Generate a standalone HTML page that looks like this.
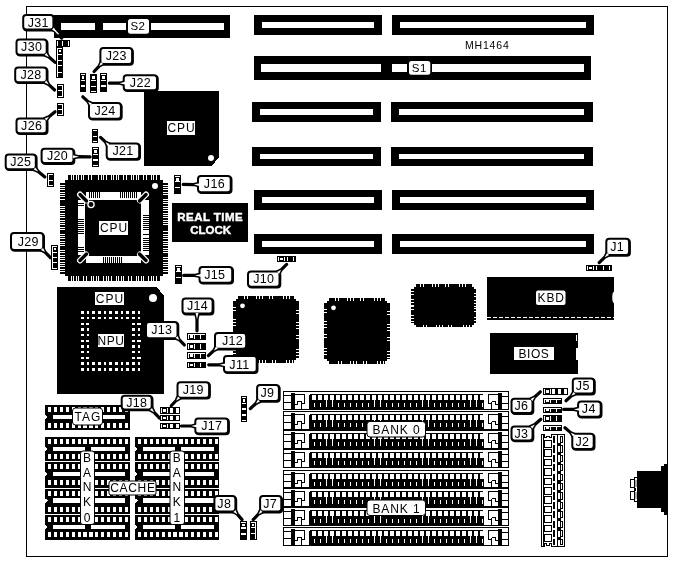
<!DOCTYPE html>
<html lang="en">
<head>
<meta charset="utf-8">
<title>MH1464 motherboard layout</title>
<style>
html,body{margin:0;padding:0;background:#fff;}
body{width:673px;height:562px;overflow:hidden;}
svg{display:block;font-family:"Liberation Sans",sans-serif;will-change:transform;}
</style>
</head>
<body>
<svg width="673" height="562" viewBox="0 0 673 562" shape-rendering="crispEdges">
<rect x="0" y="0" width="673" height="562" fill="#fff"/>
<rect x="26.5" y="6.5" width="641" height="550" fill="none" stroke="#000" stroke-width="1"/>
<rect x="54" y="15" width="176" height="23" fill="#000"/>
<rect x="61" y="23" width="33.5" height="7.3" fill="#fff"/>
<rect x="103" y="23" width="23" height="7.3" fill="#fff"/>
<rect x="151" y="23" width="72.7" height="7.3" fill="#fff"/>
<rect x="254" y="15" width="128" height="20" fill="#000"/>
<rect x="262" y="22" width="112" height="6" fill="#fff"/>
<rect x="392" y="15" width="202" height="20" fill="#000"/>
<rect x="400" y="22" width="186" height="6" fill="#fff"/>
<rect x="254" y="56" width="337" height="24" fill="#000"/>
<rect x="261" y="64" width="120" height="8" fill="#fff"/>
<rect x="392" y="64" width="192" height="8" fill="#fff"/>
<rect x="252" y="102" width="129" height="20" fill="#000"/>
<rect x="260" y="109" width="113" height="6" fill="#fff"/>
<rect x="391" y="102" width="202" height="20" fill="#000"/>
<rect x="399" y="109" width="185" height="6" fill="#fff"/>
<rect x="252" y="147" width="129" height="19" fill="#000"/>
<rect x="260" y="154" width="113" height="5" fill="#fff"/>
<rect x="391" y="147" width="202" height="19" fill="#000"/>
<rect x="399" y="154" width="185" height="5" fill="#fff"/>
<rect x="254" y="190" width="128" height="20" fill="#000"/>
<rect x="262" y="197" width="112" height="6" fill="#fff"/>
<rect x="392" y="190" width="202" height="20" fill="#000"/>
<rect x="400" y="197" width="186" height="6" fill="#fff"/>
<rect x="254" y="234" width="128" height="20" fill="#000"/>
<rect x="262" y="241" width="112" height="6" fill="#fff"/>
<rect x="392" y="234" width="202" height="20" fill="#000"/>
<rect x="400" y="241" width="186" height="6" fill="#fff"/>
<rect x="128" y="19" width="21" height="14.8" fill="#fff" rx="2.5" shape-rendering="auto"/>
<text x="137.85" y="30.04" font-size="11.5" fill="#000" text-anchor="middle" letter-spacing="0.3">S2</text>
<rect x="407" y="63" width="25.3" height="10" fill="#000"/>
<rect x="409" y="60.9" width="21.3" height="13.9" rx="2.5" fill="#fff" shape-rendering="auto"/>
<text x="419.3" y="71.5" font-size="11.5" fill="#000" text-anchor="middle" letter-spacing="0.4">S1</text>
<text x="487.3" y="48.5" font-size="10.5" fill="#000" text-anchor="middle" letter-spacing="0.8">MH1464</text>
<polygon points="144,91 219,91 219,157.5 211.5,166 144,166" fill="#000"/>
<circle cx="211" cy="158" r="3" fill="#fff" shape-rendering="auto"/>
<rect x="167" y="121" width="28" height="13.6" fill="#fff"/>
<text x="181.45" y="132.12" font-size="12" fill="#000" text-anchor="middle" letter-spacing="0.9">CPU</text>
<rect x="68" y="175" width="92" height="6" fill="#000"/>
<rect x="71" y="175" width="1" height="6" fill="#fff"/>
<rect x="73" y="175" width="1" height="6" fill="#fff"/>
<rect x="76" y="175" width="1" height="6" fill="#fff"/>
<rect x="78" y="175" width="1" height="6" fill="#fff"/>
<rect x="81" y="175" width="1" height="6" fill="#fff"/>
<rect x="83" y="175" width="1" height="6" fill="#fff"/>
<rect x="88" y="175" width="1" height="6" fill="#fff"/>
<rect x="91" y="175" width="1" height="6" fill="#fff"/>
<rect x="98" y="175" width="1" height="6" fill="#fff"/>
<rect x="101" y="175" width="1" height="6" fill="#fff"/>
<rect x="103" y="175" width="1" height="6" fill="#fff"/>
<rect x="106" y="175" width="1" height="6" fill="#fff"/>
<rect x="111" y="175" width="1" height="6" fill="#fff"/>
<rect x="113" y="175" width="1" height="6" fill="#fff"/>
<rect x="116" y="175" width="1" height="6" fill="#fff"/>
<rect x="118" y="175" width="1" height="6" fill="#fff"/>
<rect x="123" y="175" width="1" height="6" fill="#fff"/>
<rect x="126" y="175" width="1" height="6" fill="#fff"/>
<rect x="131" y="175" width="1" height="6" fill="#fff"/>
<rect x="133" y="175" width="1" height="6" fill="#fff"/>
<rect x="136" y="175" width="1" height="6" fill="#fff"/>
<rect x="138" y="175" width="1" height="6" fill="#fff"/>
<rect x="143" y="175" width="1" height="6" fill="#fff"/>
<rect x="146" y="175" width="1" height="6" fill="#fff"/>
<rect x="151" y="175" width="1" height="6" fill="#fff"/>
<rect x="153" y="175" width="1" height="6" fill="#fff"/>
<rect x="156" y="175" width="1" height="6" fill="#fff"/>
<rect x="68" y="275" width="92" height="6" fill="#000"/>
<rect x="71" y="275" width="1" height="6" fill="#fff"/>
<rect x="73" y="275" width="1" height="6" fill="#fff"/>
<rect x="76" y="275" width="1" height="6" fill="#fff"/>
<rect x="78" y="275" width="1" height="6" fill="#fff"/>
<rect x="83" y="275" width="1" height="6" fill="#fff"/>
<rect x="86" y="275" width="1" height="6" fill="#fff"/>
<rect x="91" y="275" width="1" height="6" fill="#fff"/>
<rect x="93" y="275" width="1" height="6" fill="#fff"/>
<rect x="96" y="275" width="1" height="6" fill="#fff"/>
<rect x="98" y="275" width="1" height="6" fill="#fff"/>
<rect x="103" y="275" width="1" height="6" fill="#fff"/>
<rect x="106" y="275" width="1" height="6" fill="#fff"/>
<rect x="108" y="275" width="1" height="6" fill="#fff"/>
<rect x="111" y="275" width="1" height="6" fill="#fff"/>
<rect x="116" y="275" width="1" height="6" fill="#fff"/>
<rect x="118" y="275" width="1" height="6" fill="#fff"/>
<rect x="121" y="275" width="1" height="6" fill="#fff"/>
<rect x="123" y="275" width="1" height="6" fill="#fff"/>
<rect x="128" y="275" width="1" height="6" fill="#fff"/>
<rect x="131" y="275" width="1" height="6" fill="#fff"/>
<rect x="136" y="275" width="1" height="6" fill="#fff"/>
<rect x="138" y="275" width="1" height="6" fill="#fff"/>
<rect x="141" y="275" width="1" height="6" fill="#fff"/>
<rect x="143" y="275" width="1" height="6" fill="#fff"/>
<rect x="148" y="275" width="1" height="6" fill="#fff"/>
<rect x="151" y="275" width="1" height="6" fill="#fff"/>
<rect x="153" y="275" width="1" height="6" fill="#fff"/>
<rect x="156" y="275" width="1" height="6" fill="#fff"/>
<rect x="60" y="183" width="6" height="91" fill="#000"/>
<rect x="60" y="185" width="6" height="1" fill="#fff"/>
<rect x="60" y="187" width="6" height="1" fill="#fff"/>
<rect x="60" y="189" width="6" height="1" fill="#fff"/>
<rect x="60" y="192" width="6" height="1" fill="#fff"/>
<rect x="60" y="194" width="6" height="1" fill="#fff"/>
<rect x="60" y="196" width="6" height="1" fill="#fff"/>
<rect x="60" y="199" width="6" height="1" fill="#fff"/>
<rect x="60" y="206" width="6" height="1" fill="#fff"/>
<rect x="60" y="208" width="6" height="1" fill="#fff"/>
<rect x="60" y="210" width="6" height="1" fill="#fff"/>
<rect x="60" y="213" width="6" height="1" fill="#fff"/>
<rect x="60" y="215" width="6" height="1" fill="#fff"/>
<rect x="60" y="217" width="6" height="1" fill="#fff"/>
<rect x="60" y="220" width="6" height="1" fill="#fff"/>
<rect x="60" y="222" width="6" height="1" fill="#fff"/>
<rect x="60" y="224" width="6" height="1" fill="#fff"/>
<rect x="60" y="227" width="6" height="1" fill="#fff"/>
<rect x="60" y="229" width="6" height="1" fill="#fff"/>
<rect x="60" y="234" width="6" height="1" fill="#fff"/>
<rect x="60" y="236" width="6" height="1" fill="#fff"/>
<rect x="60" y="238" width="6" height="1" fill="#fff"/>
<rect x="60" y="241" width="6" height="1" fill="#fff"/>
<rect x="60" y="243" width="6" height="1" fill="#fff"/>
<rect x="60" y="245" width="6" height="1" fill="#fff"/>
<rect x="60" y="250" width="6" height="1" fill="#fff"/>
<rect x="60" y="252" width="6" height="1" fill="#fff"/>
<rect x="60" y="255" width="6" height="1" fill="#fff"/>
<rect x="60" y="257" width="6" height="1" fill="#fff"/>
<rect x="60" y="259" width="6" height="1" fill="#fff"/>
<rect x="60" y="262" width="6" height="1" fill="#fff"/>
<rect x="60" y="264" width="6" height="1" fill="#fff"/>
<rect x="60" y="266" width="6" height="1" fill="#fff"/>
<rect x="60" y="269" width="6" height="1" fill="#fff"/>
<rect x="60" y="271" width="6" height="1" fill="#fff"/>
<rect x="162" y="183" width="6" height="91" fill="#000"/>
<rect x="162" y="185" width="6" height="1" fill="#fff"/>
<rect x="162" y="187" width="6" height="1" fill="#fff"/>
<rect x="162" y="189" width="6" height="1" fill="#fff"/>
<rect x="162" y="192" width="6" height="1" fill="#fff"/>
<rect x="162" y="194" width="6" height="1" fill="#fff"/>
<rect x="162" y="199" width="6" height="1" fill="#fff"/>
<rect x="162" y="201" width="6" height="1" fill="#fff"/>
<rect x="162" y="203" width="6" height="1" fill="#fff"/>
<rect x="162" y="206" width="6" height="1" fill="#fff"/>
<rect x="162" y="208" width="6" height="1" fill="#fff"/>
<rect x="162" y="210" width="6" height="1" fill="#fff"/>
<rect x="162" y="213" width="6" height="1" fill="#fff"/>
<rect x="162" y="215" width="6" height="1" fill="#fff"/>
<rect x="162" y="217" width="6" height="1" fill="#fff"/>
<rect x="162" y="220" width="6" height="1" fill="#fff"/>
<rect x="162" y="222" width="6" height="1" fill="#fff"/>
<rect x="162" y="224" width="6" height="1" fill="#fff"/>
<rect x="162" y="231" width="6" height="1" fill="#fff"/>
<rect x="162" y="234" width="6" height="1" fill="#fff"/>
<rect x="162" y="236" width="6" height="1" fill="#fff"/>
<rect x="162" y="238" width="6" height="1" fill="#fff"/>
<rect x="162" y="241" width="6" height="1" fill="#fff"/>
<rect x="162" y="243" width="6" height="1" fill="#fff"/>
<rect x="162" y="245" width="6" height="1" fill="#fff"/>
<rect x="162" y="248" width="6" height="1" fill="#fff"/>
<rect x="162" y="250" width="6" height="1" fill="#fff"/>
<rect x="162" y="252" width="6" height="1" fill="#fff"/>
<rect x="162" y="257" width="6" height="1" fill="#fff"/>
<rect x="162" y="259" width="6" height="1" fill="#fff"/>
<rect x="162" y="262" width="6" height="1" fill="#fff"/>
<rect x="162" y="264" width="6" height="1" fill="#fff"/>
<rect x="162" y="266" width="6" height="1" fill="#fff"/>
<rect x="162" y="269" width="6" height="1" fill="#fff"/>
<rect x="162" y="271" width="6" height="1" fill="#fff"/>
<rect x="65" y="180" width="98" height="96" fill="#000"/>
<rect x="78" y="192" width="71" height="71" fill="#fff"/>
<rect x="85" y="199.5" width="56" height="56.5" fill="#000"/>
<rect x="89" y="192" width="1" height="6" fill="#000"/>
<rect x="91" y="192" width="1" height="6" fill="#000"/>
<rect x="93" y="192" width="1" height="6" fill="#000"/>
<rect x="95" y="192" width="1" height="6" fill="#000"/>
<rect x="97" y="192" width="1" height="6" fill="#000"/>
<rect x="99" y="192" width="1" height="6" fill="#000"/>
<rect x="120" y="192" width="1" height="6" fill="#000"/>
<rect x="122" y="192" width="1" height="6" fill="#000"/>
<rect x="124" y="192" width="1" height="6" fill="#000"/>
<rect x="126" y="192" width="1" height="6" fill="#000"/>
<rect x="128" y="192" width="1" height="6" fill="#000"/>
<rect x="130" y="192" width="1" height="6" fill="#000"/>
<rect x="132" y="192" width="1" height="6" fill="#000"/>
<rect x="134" y="192" width="1" height="6" fill="#000"/>
<rect x="136" y="192" width="1" height="6" fill="#000"/>
<rect x="103" y="257" width="1" height="6" fill="#000"/>
<rect x="105" y="257" width="1" height="6" fill="#000"/>
<rect x="107" y="257" width="1" height="6" fill="#000"/>
<rect x="109" y="257" width="1" height="6" fill="#000"/>
<rect x="111" y="257" width="1" height="6" fill="#000"/>
<rect x="113" y="257" width="1" height="6" fill="#000"/>
<rect x="115" y="257" width="1" height="6" fill="#000"/>
<rect x="117" y="257" width="1" height="6" fill="#000"/>
<rect x="119" y="257" width="1" height="6" fill="#000"/>
<rect x="121" y="257" width="1" height="6" fill="#000"/>
<rect x="143" y="215" width="6" height="1" fill="#000"/>
<rect x="143" y="217" width="6" height="1" fill="#000"/>
<rect x="143" y="219" width="6" height="1" fill="#000"/>
<rect x="143" y="221" width="6" height="1" fill="#000"/>
<rect x="143" y="223" width="6" height="1" fill="#000"/>
<rect x="143" y="225" width="6" height="1" fill="#000"/>
<rect x="143" y="227" width="6" height="1" fill="#000"/>
<rect x="143" y="229" width="6" height="1" fill="#000"/>
<rect x="143" y="234" width="6" height="1" fill="#000"/>
<rect x="143" y="238" width="6" height="1" fill="#000"/>
<rect x="143" y="240" width="6" height="1" fill="#000"/>
<rect x="143" y="242" width="6" height="1" fill="#000"/>
<rect x="143" y="244" width="6" height="1" fill="#000"/>
<rect x="143" y="246" width="6" height="1" fill="#000"/>
<rect x="143" y="248" width="6" height="1" fill="#000"/>
<rect x="143" y="250" width="6" height="1" fill="#000"/>
<rect x="78" y="203" width="6" height="1" fill="#000"/>
<rect x="78" y="205" width="6" height="1" fill="#000"/>
<rect x="78" y="219" width="6" height="1" fill="#000"/>
<rect x="78" y="221" width="6" height="1" fill="#000"/>
<rect x="78" y="223" width="6" height="1" fill="#000"/>
<rect x="78" y="225" width="6" height="1" fill="#000"/>
<rect x="78" y="227" width="6" height="1" fill="#000"/>
<rect x="78" y="229" width="6" height="1" fill="#000"/>
<rect x="78" y="231" width="6" height="1" fill="#000"/>
<rect x="78" y="233" width="6" height="1" fill="#000"/>
<rect x="78" y="247" width="6" height="1" fill="#000"/>
<rect x="78" y="249" width="6" height="1" fill="#000"/>
<rect x="78" y="251" width="6" height="1" fill="#000"/>
<rect x="77.5" y="192" width="8" height="8" fill="#000"/>
<path d="M80 194.5 L86 200.5" stroke="#fff" stroke-width="6" stroke-linecap="round" shape-rendering="auto"/>
<path d="M80 194.5 L86.5 201" stroke="#000" stroke-width="3.4" stroke-linecap="round" shape-rendering="auto"/>
<rect x="140.5" y="192" width="8" height="8" fill="#000"/>
<path d="M146 194.5 L140 200.5" stroke="#fff" stroke-width="6" stroke-linecap="round" shape-rendering="auto"/>
<path d="M146 194.5 L139.5 201" stroke="#000" stroke-width="3.4" stroke-linecap="round" shape-rendering="auto"/>
<rect x="77.5" y="255" width="8" height="8" fill="#000"/>
<path d="M80 260.5 L86 254.5" stroke="#fff" stroke-width="6" stroke-linecap="round" shape-rendering="auto"/>
<path d="M80 260.5 L86.5 254" stroke="#000" stroke-width="3.4" stroke-linecap="round" shape-rendering="auto"/>
<rect x="140.5" y="255" width="8" height="8" fill="#000"/>
<path d="M146 260.5 L140 254.5" stroke="#fff" stroke-width="6" stroke-linecap="round" shape-rendering="auto"/>
<path d="M146 260.5 L139.5 254" stroke="#000" stroke-width="3.4" stroke-linecap="round" shape-rendering="auto"/>
<circle cx="155" cy="186" r="3" fill="#fff" shape-rendering="auto"/>
<circle cx="91" cy="204.5" r="3.1" fill="#000" stroke="#fff" stroke-width="1.3" shape-rendering="auto"/>
<rect x="99" y="221" width="29" height="13.6" fill="#fff"/>
<text x="113.95" y="232.12" font-size="12" fill="#000" text-anchor="middle" letter-spacing="0.9">CPU</text>
<polygon points="57,287 157,287 164,296 164,394 57,394" fill="#000"/>
<circle cx="153" cy="298" r="4" fill="#fff" shape-rendering="auto"/>
<rect x="95" y="292" width="29" height="13" fill="#fff"/>
<text x="110" y="302.82" font-size="12" fill="#000" text-anchor="middle" letter-spacing="1">CPU</text>
<rect x="80.6" y="311.4" width="3.2" height="2.4" fill="#fff"/>
<rect x="80.9" y="317.07" width="2.6" height="2.4" fill="#fff"/>
<rect x="80.9" y="322.74" width="2.6" height="2.4" fill="#fff"/>
<rect x="80.6" y="328.41" width="3.2" height="2.4" fill="#fff"/>
<rect x="80.9" y="334.08" width="2.6" height="2.4" fill="#fff"/>
<rect x="80.9" y="339.75" width="2.6" height="2.4" fill="#fff"/>
<rect x="80.6" y="345.42" width="3.2" height="2.4" fill="#fff"/>
<rect x="80.9" y="351.09" width="2.6" height="2.4" fill="#fff"/>
<rect x="80.9" y="356.76" width="2.6" height="2.4" fill="#fff"/>
<rect x="80.6" y="362.43" width="3.2" height="2.4" fill="#fff"/>
<rect x="80.9" y="368.1" width="2.6" height="2.4" fill="#fff"/>
<rect x="86.57" y="311.4" width="2.6" height="2.4" fill="#fff"/>
<rect x="86.57" y="317.07" width="2.6" height="2.4" fill="#fff"/>
<rect x="86.27" y="322.74" width="3.2" height="2.4" fill="#fff"/>
<rect x="86.57" y="328.41" width="2.6" height="2.4" fill="#fff"/>
<rect x="86.57" y="334.08" width="2.6" height="2.4" fill="#fff"/>
<rect x="86.27" y="339.75" width="3.2" height="2.4" fill="#fff"/>
<rect x="86.57" y="345.42" width="2.6" height="2.4" fill="#fff"/>
<rect x="86.57" y="351.09" width="2.6" height="2.4" fill="#fff"/>
<rect x="86.27" y="356.76" width="3.2" height="2.4" fill="#fff"/>
<rect x="86.57" y="362.43" width="2.6" height="2.4" fill="#fff"/>
<rect x="86.57" y="368.1" width="2.6" height="2.4" fill="#fff"/>
<rect x="92.24" y="311.4" width="2.6" height="2.4" fill="#fff"/>
<rect x="91.94" y="317.07" width="3.2" height="2.4" fill="#fff"/>
<rect x="92.24" y="362.43" width="2.6" height="2.4" fill="#fff"/>
<rect x="91.94" y="368.1" width="3.2" height="2.4" fill="#fff"/>
<rect x="97.61" y="311.4" width="3.2" height="2.4" fill="#fff"/>
<rect x="97.91" y="317.07" width="2.6" height="2.4" fill="#fff"/>
<rect x="97.61" y="362.43" width="3.2" height="2.4" fill="#fff"/>
<rect x="97.91" y="368.1" width="2.6" height="2.4" fill="#fff"/>
<rect x="103.58" y="311.4" width="2.6" height="2.4" fill="#fff"/>
<rect x="103.58" y="317.07" width="2.6" height="2.4" fill="#fff"/>
<rect x="103.58" y="362.43" width="2.6" height="2.4" fill="#fff"/>
<rect x="103.58" y="368.1" width="2.6" height="2.4" fill="#fff"/>
<rect x="109.25" y="311.4" width="2.6" height="2.4" fill="#fff"/>
<rect x="108.95" y="317.07" width="3.2" height="2.4" fill="#fff"/>
<rect x="109.25" y="362.43" width="2.6" height="2.4" fill="#fff"/>
<rect x="108.95" y="368.1" width="3.2" height="2.4" fill="#fff"/>
<rect x="114.62" y="311.4" width="3.2" height="2.4" fill="#fff"/>
<rect x="114.92" y="317.07" width="2.6" height="2.4" fill="#fff"/>
<rect x="114.62" y="362.43" width="3.2" height="2.4" fill="#fff"/>
<rect x="114.92" y="368.1" width="2.6" height="2.4" fill="#fff"/>
<rect x="120.59" y="311.4" width="2.6" height="2.4" fill="#fff"/>
<rect x="120.59" y="317.07" width="2.6" height="2.4" fill="#fff"/>
<rect x="120.59" y="362.43" width="2.6" height="2.4" fill="#fff"/>
<rect x="120.59" y="368.1" width="2.6" height="2.4" fill="#fff"/>
<rect x="126.26" y="311.4" width="2.6" height="2.4" fill="#fff"/>
<rect x="125.96" y="317.07" width="3.2" height="2.4" fill="#fff"/>
<rect x="126.26" y="362.43" width="2.6" height="2.4" fill="#fff"/>
<rect x="125.96" y="368.1" width="3.2" height="2.4" fill="#fff"/>
<rect x="131.63" y="311.4" width="3.2" height="2.4" fill="#fff"/>
<rect x="131.93" y="317.07" width="2.6" height="2.4" fill="#fff"/>
<rect x="131.93" y="322.74" width="2.6" height="2.4" fill="#fff"/>
<rect x="131.63" y="328.41" width="3.2" height="2.4" fill="#fff"/>
<rect x="131.93" y="334.08" width="2.6" height="2.4" fill="#fff"/>
<rect x="131.93" y="339.75" width="2.6" height="2.4" fill="#fff"/>
<rect x="131.63" y="345.42" width="3.2" height="2.4" fill="#fff"/>
<rect x="131.93" y="351.09" width="2.6" height="2.4" fill="#fff"/>
<rect x="131.93" y="356.76" width="2.6" height="2.4" fill="#fff"/>
<rect x="131.63" y="362.43" width="3.2" height="2.4" fill="#fff"/>
<rect x="131.93" y="368.1" width="2.6" height="2.4" fill="#fff"/>
<rect x="137.6" y="311.4" width="2.6" height="2.4" fill="#fff"/>
<rect x="137.6" y="317.07" width="2.6" height="2.4" fill="#fff"/>
<rect x="137.3" y="322.74" width="3.2" height="2.4" fill="#fff"/>
<rect x="137.6" y="328.41" width="2.6" height="2.4" fill="#fff"/>
<rect x="137.6" y="334.08" width="2.6" height="2.4" fill="#fff"/>
<rect x="137.3" y="339.75" width="3.2" height="2.4" fill="#fff"/>
<rect x="137.6" y="345.42" width="2.6" height="2.4" fill="#fff"/>
<rect x="137.6" y="351.09" width="2.6" height="2.4" fill="#fff"/>
<rect x="137.3" y="356.76" width="3.2" height="2.4" fill="#fff"/>
<rect x="137.6" y="362.43" width="2.6" height="2.4" fill="#fff"/>
<rect x="137.6" y="368.1" width="2.6" height="2.4" fill="#fff"/>
<rect x="97.5" y="334" width="26.5" height="13" fill="#fff"/>
<text x="111.05" y="344.82" font-size="12" fill="#000" text-anchor="middle" letter-spacing="0.6">NPU</text>
<rect x="172" y="203" width="76" height="39" fill="#000"/>
<text x="210.2" y="220.9" font-size="11.5" fill="#fff" text-anchor="middle" font-weight="bold" letter-spacing="0.45" stroke="#fff" stroke-width="0.45">REAL TIME</text>
<text x="210.6" y="233.7" font-size="11.5" fill="#fff" text-anchor="middle" font-weight="bold" letter-spacing="0" stroke="#fff" stroke-width="0.45">CLOCK</text>
<rect x="236" y="299" width="60" height="61" fill="#000"/>
<rect x="238" y="296" width="56" height="3" fill="#000"/>
<rect x="238" y="360" width="56" height="3" fill="#000"/>
<rect x="233" y="301" width="3" height="57" fill="#000"/>
<rect x="296" y="301" width="3" height="57" fill="#000"/>
<rect x="244" y="296" width="1" height="3" fill="#fff"/>
<rect x="247" y="360" width="1" height="3" fill="#fff"/>
<rect x="233" y="307" width="3" height="1" fill="#fff"/>
<rect x="296" y="310" width="3" height="1" fill="#fff"/>
<rect x="247" y="296" width="1" height="3" fill="#fff"/>
<rect x="250" y="360" width="1" height="3" fill="#fff"/>
<rect x="233" y="310" width="3" height="1" fill="#fff"/>
<rect x="296" y="313" width="3" height="1" fill="#fff"/>
<rect x="256" y="296" width="1" height="3" fill="#fff"/>
<rect x="259" y="360" width="1" height="3" fill="#fff"/>
<rect x="233" y="319" width="3" height="1" fill="#fff"/>
<rect x="296" y="322" width="3" height="1" fill="#fff"/>
<rect x="259" y="296" width="1" height="3" fill="#fff"/>
<rect x="262" y="360" width="1" height="3" fill="#fff"/>
<rect x="233" y="322" width="3" height="1" fill="#fff"/>
<rect x="296" y="325" width="3" height="1" fill="#fff"/>
<rect x="262" y="296" width="1" height="3" fill="#fff"/>
<rect x="265" y="360" width="1" height="3" fill="#fff"/>
<rect x="233" y="325" width="3" height="1" fill="#fff"/>
<rect x="296" y="328" width="3" height="1" fill="#fff"/>
<rect x="269" y="296" width="1" height="3" fill="#fff"/>
<rect x="272" y="360" width="1" height="3" fill="#fff"/>
<rect x="233" y="332" width="3" height="1" fill="#fff"/>
<rect x="296" y="335" width="3" height="1" fill="#fff"/>
<rect x="272" y="296" width="1" height="3" fill="#fff"/>
<rect x="275" y="360" width="1" height="3" fill="#fff"/>
<rect x="233" y="335" width="3" height="1" fill="#fff"/>
<rect x="296" y="338" width="3" height="1" fill="#fff"/>
<rect x="283" y="296" width="1" height="3" fill="#fff"/>
<rect x="286" y="360" width="1" height="3" fill="#fff"/>
<rect x="233" y="347" width="3" height="1" fill="#fff"/>
<rect x="296" y="349" width="3" height="1" fill="#fff"/>
<rect x="286" y="296" width="1" height="3" fill="#fff"/>
<rect x="289" y="360" width="1" height="3" fill="#fff"/>
<rect x="233" y="350" width="3" height="1" fill="#fff"/>
<rect x="296" y="352" width="3" height="1" fill="#fff"/>
<rect x="289" y="296" width="1" height="3" fill="#fff"/>
<rect x="292" y="360" width="1" height="3" fill="#fff"/>
<rect x="233" y="353" width="3" height="1" fill="#fff"/>
<rect x="296" y="355" width="3" height="1" fill="#fff"/>
<circle cx="242.5" cy="305.8" r="2.4" fill="#fff" shape-rendering="auto"/>
<rect x="327" y="301" width="60" height="60" fill="#000"/>
<rect x="329" y="298" width="56" height="3" fill="#000"/>
<rect x="329" y="361" width="56" height="3" fill="#000"/>
<rect x="324" y="303" width="3" height="56" fill="#000"/>
<rect x="387" y="303" width="3" height="56" fill="#000"/>
<rect x="335" y="298" width="1" height="3" fill="#fff"/>
<rect x="338" y="361" width="1" height="3" fill="#fff"/>
<rect x="324" y="309" width="3" height="1" fill="#fff"/>
<rect x="387" y="311" width="3" height="1" fill="#fff"/>
<rect x="338" y="298" width="1" height="3" fill="#fff"/>
<rect x="341" y="361" width="1" height="3" fill="#fff"/>
<rect x="324" y="312" width="3" height="1" fill="#fff"/>
<rect x="387" y="314" width="3" height="1" fill="#fff"/>
<rect x="347" y="298" width="1" height="3" fill="#fff"/>
<rect x="350" y="361" width="1" height="3" fill="#fff"/>
<rect x="324" y="321" width="3" height="1" fill="#fff"/>
<rect x="387" y="324" width="3" height="1" fill="#fff"/>
<rect x="350" y="298" width="1" height="3" fill="#fff"/>
<rect x="353" y="361" width="1" height="3" fill="#fff"/>
<rect x="324" y="324" width="3" height="1" fill="#fff"/>
<rect x="387" y="327" width="3" height="1" fill="#fff"/>
<rect x="353" y="298" width="1" height="3" fill="#fff"/>
<rect x="356" y="361" width="1" height="3" fill="#fff"/>
<rect x="324" y="327" width="3" height="1" fill="#fff"/>
<rect x="387" y="330" width="3" height="1" fill="#fff"/>
<rect x="360" y="298" width="1" height="3" fill="#fff"/>
<rect x="363" y="361" width="1" height="3" fill="#fff"/>
<rect x="324" y="334" width="3" height="1" fill="#fff"/>
<rect x="387" y="337" width="3" height="1" fill="#fff"/>
<rect x="363" y="298" width="1" height="3" fill="#fff"/>
<rect x="366" y="361" width="1" height="3" fill="#fff"/>
<rect x="324" y="337" width="3" height="1" fill="#fff"/>
<rect x="387" y="340" width="3" height="1" fill="#fff"/>
<rect x="374" y="298" width="1" height="3" fill="#fff"/>
<rect x="377" y="361" width="1" height="3" fill="#fff"/>
<rect x="324" y="348" width="3" height="1" fill="#fff"/>
<rect x="387" y="351" width="3" height="1" fill="#fff"/>
<rect x="377" y="298" width="1" height="3" fill="#fff"/>
<rect x="380" y="361" width="1" height="3" fill="#fff"/>
<rect x="324" y="351" width="3" height="1" fill="#fff"/>
<rect x="387" y="354" width="3" height="1" fill="#fff"/>
<rect x="380" y="298" width="1" height="3" fill="#fff"/>
<rect x="383" y="361" width="1" height="3" fill="#fff"/>
<rect x="324" y="354" width="3" height="1" fill="#fff"/>
<rect x="387" y="357" width="3" height="1" fill="#fff"/>
<circle cx="333.5" cy="307.8" r="2.4" fill="#fff" shape-rendering="auto"/>
<rect x="413.5" y="286.5" width="60" height="38" fill="#000"/>
<rect x="415.5" y="284" width="56" height="2.5" fill="#000"/>
<rect x="415.5" y="324.5" width="56" height="2.5" fill="#000"/>
<rect x="411" y="288.5" width="2.5" height="34" fill="#000"/>
<rect x="473.5" y="288.5" width="2.5" height="34" fill="#000"/>
<rect x="420" y="284" width="1" height="2.5" fill="#fff"/>
<rect x="423" y="324.5" width="1" height="2.5" fill="#fff"/>
<rect x="411" y="291" width="2.5" height="1" fill="#fff"/>
<rect x="473.5" y="293" width="2.5" height="1" fill="#fff"/>
<rect x="423" y="284" width="1" height="2.5" fill="#fff"/>
<rect x="426" y="324.5" width="1" height="2.5" fill="#fff"/>
<rect x="411" y="294" width="2.5" height="1" fill="#fff"/>
<rect x="473.5" y="296" width="2.5" height="1" fill="#fff"/>
<rect x="432" y="284" width="1" height="2.5" fill="#fff"/>
<rect x="436" y="324.5" width="1" height="2.5" fill="#fff"/>
<rect x="411" y="299" width="2.5" height="1" fill="#fff"/>
<rect x="473.5" y="300" width="2.5" height="1" fill="#fff"/>
<rect x="435" y="284" width="1" height="2.5" fill="#fff"/>
<rect x="439" y="324.5" width="1" height="2.5" fill="#fff"/>
<rect x="411" y="302" width="2.5" height="1" fill="#fff"/>
<rect x="473.5" y="303" width="2.5" height="1" fill="#fff"/>
<rect x="438" y="284" width="1" height="2.5" fill="#fff"/>
<rect x="442" y="324.5" width="1" height="2.5" fill="#fff"/>
<rect x="411" y="305" width="2.5" height="1" fill="#fff"/>
<rect x="473.5" y="306" width="2.5" height="1" fill="#fff"/>
<rect x="445" y="284" width="1" height="2.5" fill="#fff"/>
<rect x="448" y="324.5" width="1" height="2.5" fill="#fff"/>
<rect x="411" y="306" width="2.5" height="1" fill="#fff"/>
<rect x="473.5" y="308" width="2.5" height="1" fill="#fff"/>
<rect x="448" y="284" width="1" height="2.5" fill="#fff"/>
<rect x="451" y="324.5" width="1" height="2.5" fill="#fff"/>
<rect x="411" y="309" width="2.5" height="1" fill="#fff"/>
<rect x="473.5" y="311" width="2.5" height="1" fill="#fff"/>
<rect x="459" y="284" width="1" height="2.5" fill="#fff"/>
<rect x="463" y="324.5" width="1" height="2.5" fill="#fff"/>
<rect x="411" y="315" width="2.5" height="1" fill="#fff"/>
<rect x="473.5" y="317" width="2.5" height="1" fill="#fff"/>
<rect x="462" y="284" width="1" height="2.5" fill="#fff"/>
<rect x="466" y="324.5" width="1" height="2.5" fill="#fff"/>
<rect x="411" y="318" width="2.5" height="1" fill="#fff"/>
<rect x="473.5" y="320" width="2.5" height="1" fill="#fff"/>
<rect x="465" y="284" width="1" height="2.5" fill="#fff"/>
<rect x="469" y="324.5" width="1" height="2.5" fill="#fff"/>
<rect x="411" y="321" width="2.5" height="1" fill="#fff"/>
<rect x="473.5" y="323" width="2.5" height="1" fill="#fff"/>
<rect x="487" y="277" width="127" height="42.5" fill="#000"/>
<line x1="487" y1="317.5" x2="614" y2="317.5" stroke="#fff" stroke-width="1" stroke-dasharray="4 2"/>
<ellipse cx="614.3" cy="297.5" rx="2.1" ry="6" fill="#fff" shape-rendering="auto"/>
<rect x="536" y="290.5" width="29.5" height="14.5" fill="#fff" rx="2" shape-rendering="auto"/>
<text x="551.15" y="302.07" font-size="12" fill="#000" text-anchor="middle" letter-spacing="0.8">KBD</text>
<rect x="490" y="333" width="88" height="41" fill="#000"/>
<rect x="575.5" y="347.5" width="2.5" height="12.5" fill="#fff"/>
<rect x="575.5" y="335" width="1" height="6" fill="#fff"/>
<rect x="514" y="347" width="40" height="13.4" fill="#fff"/>
<text x="533.95" y="358.02" font-size="12" fill="#000" text-anchor="middle" letter-spacing="0.5">BIOS</text>
<rect x="45" y="405" width="85" height="25" fill="#000"/>
<rect x="48" y="407" width="3.2" height="5" fill="#fff"/>
<rect x="48" y="422.5" width="3.2" height="5" fill="#fff"/>
<rect x="53.9" y="407" width="3.2" height="5" fill="#fff"/>
<rect x="53.9" y="422.5" width="3.2" height="5" fill="#fff"/>
<rect x="59.8" y="407" width="3.2" height="5" fill="#fff"/>
<rect x="59.8" y="422.5" width="3.2" height="5" fill="#fff"/>
<rect x="65.7" y="407" width="3.2" height="5" fill="#fff"/>
<rect x="65.7" y="422.5" width="3.2" height="5" fill="#fff"/>
<rect x="71.6" y="407" width="3.2" height="5" fill="#fff"/>
<rect x="71.6" y="422.5" width="3.2" height="5" fill="#fff"/>
<rect x="77.5" y="407" width="3.2" height="5" fill="#fff"/>
<rect x="77.5" y="422.5" width="3.2" height="5" fill="#fff"/>
<rect x="83.4" y="407" width="3.2" height="5" fill="#fff"/>
<rect x="83.4" y="422.5" width="3.2" height="5" fill="#fff"/>
<rect x="89.3" y="407" width="3.2" height="5" fill="#fff"/>
<rect x="89.3" y="422.5" width="3.2" height="5" fill="#fff"/>
<rect x="95.2" y="407" width="3.2" height="5" fill="#fff"/>
<rect x="95.2" y="422.5" width="3.2" height="5" fill="#fff"/>
<rect x="101.1" y="407" width="3.2" height="5" fill="#fff"/>
<rect x="101.1" y="422.5" width="3.2" height="5" fill="#fff"/>
<rect x="107" y="407" width="3.2" height="5" fill="#fff"/>
<rect x="107" y="422.5" width="3.2" height="5" fill="#fff"/>
<rect x="112.9" y="407" width="3.2" height="5" fill="#fff"/>
<rect x="112.9" y="422.5" width="3.2" height="5" fill="#fff"/>
<rect x="118.8" y="407" width="3.2" height="5" fill="#fff"/>
<rect x="118.8" y="422.5" width="3.2" height="5" fill="#fff"/>
<rect x="124.7" y="407" width="3.2" height="5" fill="#fff"/>
<rect x="124.7" y="422.5" width="3.2" height="5" fill="#fff"/>
<rect x="53" y="414.5" width="72" height="4.5" fill="#fff"/>
<polygon points="45,415 48,417 45,419.5" fill="#fff"/>
<rect x="45" y="437" width="85" height="24" fill="#000"/>
<rect x="48" y="439" width="3.2" height="5" fill="#fff"/>
<rect x="48" y="453.5" width="3.2" height="5" fill="#fff"/>
<rect x="53.9" y="439" width="3.2" height="5" fill="#fff"/>
<rect x="53.9" y="453.5" width="3.2" height="5" fill="#fff"/>
<rect x="59.8" y="439" width="3.2" height="5" fill="#fff"/>
<rect x="59.8" y="453.5" width="3.2" height="5" fill="#fff"/>
<rect x="65.7" y="439" width="3.2" height="5" fill="#fff"/>
<rect x="65.7" y="453.5" width="3.2" height="5" fill="#fff"/>
<rect x="71.6" y="439" width="3.2" height="5" fill="#fff"/>
<rect x="71.6" y="453.5" width="3.2" height="5" fill="#fff"/>
<rect x="77.5" y="439" width="3.2" height="5" fill="#fff"/>
<rect x="77.5" y="453.5" width="3.2" height="5" fill="#fff"/>
<rect x="83.4" y="439" width="3.2" height="5" fill="#fff"/>
<rect x="83.4" y="453.5" width="3.2" height="5" fill="#fff"/>
<rect x="89.3" y="439" width="3.2" height="5" fill="#fff"/>
<rect x="89.3" y="453.5" width="3.2" height="5" fill="#fff"/>
<rect x="95.2" y="439" width="3.2" height="5" fill="#fff"/>
<rect x="95.2" y="453.5" width="3.2" height="5" fill="#fff"/>
<rect x="101.1" y="439" width="3.2" height="5" fill="#fff"/>
<rect x="101.1" y="453.5" width="3.2" height="5" fill="#fff"/>
<rect x="107" y="439" width="3.2" height="5" fill="#fff"/>
<rect x="107" y="453.5" width="3.2" height="5" fill="#fff"/>
<rect x="112.9" y="439" width="3.2" height="5" fill="#fff"/>
<rect x="112.9" y="453.5" width="3.2" height="5" fill="#fff"/>
<rect x="118.8" y="439" width="3.2" height="5" fill="#fff"/>
<rect x="118.8" y="453.5" width="3.2" height="5" fill="#fff"/>
<rect x="124.7" y="439" width="3.2" height="5" fill="#fff"/>
<rect x="124.7" y="453.5" width="3.2" height="5" fill="#fff"/>
<rect x="53" y="446.5" width="72" height="4.5" fill="#fff"/>
<polygon points="45,447 48,449 45,451.5" fill="#fff"/>
<rect x="45" y="462" width="85" height="25.5" fill="#000"/>
<rect x="48" y="464" width="3.2" height="5" fill="#fff"/>
<rect x="48" y="480" width="3.2" height="5" fill="#fff"/>
<rect x="53.9" y="464" width="3.2" height="5" fill="#fff"/>
<rect x="53.9" y="480" width="3.2" height="5" fill="#fff"/>
<rect x="59.8" y="464" width="3.2" height="5" fill="#fff"/>
<rect x="59.8" y="480" width="3.2" height="5" fill="#fff"/>
<rect x="65.7" y="464" width="3.2" height="5" fill="#fff"/>
<rect x="65.7" y="480" width="3.2" height="5" fill="#fff"/>
<rect x="71.6" y="464" width="3.2" height="5" fill="#fff"/>
<rect x="71.6" y="480" width="3.2" height="5" fill="#fff"/>
<rect x="77.5" y="464" width="3.2" height="5" fill="#fff"/>
<rect x="77.5" y="480" width="3.2" height="5" fill="#fff"/>
<rect x="83.4" y="464" width="3.2" height="5" fill="#fff"/>
<rect x="83.4" y="480" width="3.2" height="5" fill="#fff"/>
<rect x="89.3" y="464" width="3.2" height="5" fill="#fff"/>
<rect x="89.3" y="480" width="3.2" height="5" fill="#fff"/>
<rect x="95.2" y="464" width="3.2" height="5" fill="#fff"/>
<rect x="95.2" y="480" width="3.2" height="5" fill="#fff"/>
<rect x="101.1" y="464" width="3.2" height="5" fill="#fff"/>
<rect x="101.1" y="480" width="3.2" height="5" fill="#fff"/>
<rect x="107" y="464" width="3.2" height="5" fill="#fff"/>
<rect x="107" y="480" width="3.2" height="5" fill="#fff"/>
<rect x="112.9" y="464" width="3.2" height="5" fill="#fff"/>
<rect x="112.9" y="480" width="3.2" height="5" fill="#fff"/>
<rect x="118.8" y="464" width="3.2" height="5" fill="#fff"/>
<rect x="118.8" y="480" width="3.2" height="5" fill="#fff"/>
<rect x="124.7" y="464" width="3.2" height="5" fill="#fff"/>
<rect x="124.7" y="480" width="3.2" height="5" fill="#fff"/>
<rect x="53" y="471.5" width="72" height="4.5" fill="#fff"/>
<polygon points="45,472 48,474 45,476.5" fill="#fff"/>
<rect x="45" y="488.5" width="85" height="25.5" fill="#000"/>
<rect x="48" y="490.5" width="3.2" height="5" fill="#fff"/>
<rect x="48" y="506.5" width="3.2" height="5" fill="#fff"/>
<rect x="53.9" y="490.5" width="3.2" height="5" fill="#fff"/>
<rect x="53.9" y="506.5" width="3.2" height="5" fill="#fff"/>
<rect x="59.8" y="490.5" width="3.2" height="5" fill="#fff"/>
<rect x="59.8" y="506.5" width="3.2" height="5" fill="#fff"/>
<rect x="65.7" y="490.5" width="3.2" height="5" fill="#fff"/>
<rect x="65.7" y="506.5" width="3.2" height="5" fill="#fff"/>
<rect x="71.6" y="490.5" width="3.2" height="5" fill="#fff"/>
<rect x="71.6" y="506.5" width="3.2" height="5" fill="#fff"/>
<rect x="77.5" y="490.5" width="3.2" height="5" fill="#fff"/>
<rect x="77.5" y="506.5" width="3.2" height="5" fill="#fff"/>
<rect x="83.4" y="490.5" width="3.2" height="5" fill="#fff"/>
<rect x="83.4" y="506.5" width="3.2" height="5" fill="#fff"/>
<rect x="89.3" y="490.5" width="3.2" height="5" fill="#fff"/>
<rect x="89.3" y="506.5" width="3.2" height="5" fill="#fff"/>
<rect x="95.2" y="490.5" width="3.2" height="5" fill="#fff"/>
<rect x="95.2" y="506.5" width="3.2" height="5" fill="#fff"/>
<rect x="101.1" y="490.5" width="3.2" height="5" fill="#fff"/>
<rect x="101.1" y="506.5" width="3.2" height="5" fill="#fff"/>
<rect x="107" y="490.5" width="3.2" height="5" fill="#fff"/>
<rect x="107" y="506.5" width="3.2" height="5" fill="#fff"/>
<rect x="112.9" y="490.5" width="3.2" height="5" fill="#fff"/>
<rect x="112.9" y="506.5" width="3.2" height="5" fill="#fff"/>
<rect x="118.8" y="490.5" width="3.2" height="5" fill="#fff"/>
<rect x="118.8" y="506.5" width="3.2" height="5" fill="#fff"/>
<rect x="124.7" y="490.5" width="3.2" height="5" fill="#fff"/>
<rect x="124.7" y="506.5" width="3.2" height="5" fill="#fff"/>
<rect x="53" y="498" width="72" height="4.5" fill="#fff"/>
<polygon points="45,498.5 48,500.5 45,503" fill="#fff"/>
<rect x="45" y="515" width="85" height="24.5" fill="#000"/>
<rect x="48" y="517" width="3.2" height="5" fill="#fff"/>
<rect x="48" y="532" width="3.2" height="5" fill="#fff"/>
<rect x="53.9" y="517" width="3.2" height="5" fill="#fff"/>
<rect x="53.9" y="532" width="3.2" height="5" fill="#fff"/>
<rect x="59.8" y="517" width="3.2" height="5" fill="#fff"/>
<rect x="59.8" y="532" width="3.2" height="5" fill="#fff"/>
<rect x="65.7" y="517" width="3.2" height="5" fill="#fff"/>
<rect x="65.7" y="532" width="3.2" height="5" fill="#fff"/>
<rect x="71.6" y="517" width="3.2" height="5" fill="#fff"/>
<rect x="71.6" y="532" width="3.2" height="5" fill="#fff"/>
<rect x="77.5" y="517" width="3.2" height="5" fill="#fff"/>
<rect x="77.5" y="532" width="3.2" height="5" fill="#fff"/>
<rect x="83.4" y="517" width="3.2" height="5" fill="#fff"/>
<rect x="83.4" y="532" width="3.2" height="5" fill="#fff"/>
<rect x="89.3" y="517" width="3.2" height="5" fill="#fff"/>
<rect x="89.3" y="532" width="3.2" height="5" fill="#fff"/>
<rect x="95.2" y="517" width="3.2" height="5" fill="#fff"/>
<rect x="95.2" y="532" width="3.2" height="5" fill="#fff"/>
<rect x="101.1" y="517" width="3.2" height="5" fill="#fff"/>
<rect x="101.1" y="532" width="3.2" height="5" fill="#fff"/>
<rect x="107" y="517" width="3.2" height="5" fill="#fff"/>
<rect x="107" y="532" width="3.2" height="5" fill="#fff"/>
<rect x="112.9" y="517" width="3.2" height="5" fill="#fff"/>
<rect x="112.9" y="532" width="3.2" height="5" fill="#fff"/>
<rect x="118.8" y="517" width="3.2" height="5" fill="#fff"/>
<rect x="118.8" y="532" width="3.2" height="5" fill="#fff"/>
<rect x="124.7" y="517" width="3.2" height="5" fill="#fff"/>
<rect x="124.7" y="532" width="3.2" height="5" fill="#fff"/>
<rect x="53" y="524.5" width="72" height="4.5" fill="#fff"/>
<polygon points="45,525 48,527 45,529.5" fill="#fff"/>
<rect x="85" y="447" width="6" height="84" fill="#000"/>
<rect x="135" y="437" width="84" height="24" fill="#000"/>
<rect x="138" y="439" width="3.2" height="5" fill="#fff"/>
<rect x="138" y="453.5" width="3.2" height="5" fill="#fff"/>
<rect x="143.9" y="439" width="3.2" height="5" fill="#fff"/>
<rect x="143.9" y="453.5" width="3.2" height="5" fill="#fff"/>
<rect x="149.8" y="439" width="3.2" height="5" fill="#fff"/>
<rect x="149.8" y="453.5" width="3.2" height="5" fill="#fff"/>
<rect x="155.7" y="439" width="3.2" height="5" fill="#fff"/>
<rect x="155.7" y="453.5" width="3.2" height="5" fill="#fff"/>
<rect x="161.6" y="439" width="3.2" height="5" fill="#fff"/>
<rect x="161.6" y="453.5" width="3.2" height="5" fill="#fff"/>
<rect x="167.5" y="439" width="3.2" height="5" fill="#fff"/>
<rect x="167.5" y="453.5" width="3.2" height="5" fill="#fff"/>
<rect x="173.4" y="439" width="3.2" height="5" fill="#fff"/>
<rect x="173.4" y="453.5" width="3.2" height="5" fill="#fff"/>
<rect x="179.3" y="439" width="3.2" height="5" fill="#fff"/>
<rect x="179.3" y="453.5" width="3.2" height="5" fill="#fff"/>
<rect x="185.2" y="439" width="3.2" height="5" fill="#fff"/>
<rect x="185.2" y="453.5" width="3.2" height="5" fill="#fff"/>
<rect x="191.1" y="439" width="3.2" height="5" fill="#fff"/>
<rect x="191.1" y="453.5" width="3.2" height="5" fill="#fff"/>
<rect x="197" y="439" width="3.2" height="5" fill="#fff"/>
<rect x="197" y="453.5" width="3.2" height="5" fill="#fff"/>
<rect x="202.9" y="439" width="3.2" height="5" fill="#fff"/>
<rect x="202.9" y="453.5" width="3.2" height="5" fill="#fff"/>
<rect x="208.8" y="439" width="3.2" height="5" fill="#fff"/>
<rect x="208.8" y="453.5" width="3.2" height="5" fill="#fff"/>
<rect x="214.7" y="439" width="3.2" height="5" fill="#fff"/>
<rect x="214.7" y="453.5" width="3.2" height="5" fill="#fff"/>
<rect x="143" y="446.5" width="71" height="4.5" fill="#fff"/>
<polygon points="135,447 138,449 135,451.5" fill="#fff"/>
<rect x="135" y="462" width="84" height="25.5" fill="#000"/>
<rect x="138" y="464" width="3.2" height="5" fill="#fff"/>
<rect x="138" y="480" width="3.2" height="5" fill="#fff"/>
<rect x="143.9" y="464" width="3.2" height="5" fill="#fff"/>
<rect x="143.9" y="480" width="3.2" height="5" fill="#fff"/>
<rect x="149.8" y="464" width="3.2" height="5" fill="#fff"/>
<rect x="149.8" y="480" width="3.2" height="5" fill="#fff"/>
<rect x="155.7" y="464" width="3.2" height="5" fill="#fff"/>
<rect x="155.7" y="480" width="3.2" height="5" fill="#fff"/>
<rect x="161.6" y="464" width="3.2" height="5" fill="#fff"/>
<rect x="161.6" y="480" width="3.2" height="5" fill="#fff"/>
<rect x="167.5" y="464" width="3.2" height="5" fill="#fff"/>
<rect x="167.5" y="480" width="3.2" height="5" fill="#fff"/>
<rect x="173.4" y="464" width="3.2" height="5" fill="#fff"/>
<rect x="173.4" y="480" width="3.2" height="5" fill="#fff"/>
<rect x="179.3" y="464" width="3.2" height="5" fill="#fff"/>
<rect x="179.3" y="480" width="3.2" height="5" fill="#fff"/>
<rect x="185.2" y="464" width="3.2" height="5" fill="#fff"/>
<rect x="185.2" y="480" width="3.2" height="5" fill="#fff"/>
<rect x="191.1" y="464" width="3.2" height="5" fill="#fff"/>
<rect x="191.1" y="480" width="3.2" height="5" fill="#fff"/>
<rect x="197" y="464" width="3.2" height="5" fill="#fff"/>
<rect x="197" y="480" width="3.2" height="5" fill="#fff"/>
<rect x="202.9" y="464" width="3.2" height="5" fill="#fff"/>
<rect x="202.9" y="480" width="3.2" height="5" fill="#fff"/>
<rect x="208.8" y="464" width="3.2" height="5" fill="#fff"/>
<rect x="208.8" y="480" width="3.2" height="5" fill="#fff"/>
<rect x="214.7" y="464" width="3.2" height="5" fill="#fff"/>
<rect x="214.7" y="480" width="3.2" height="5" fill="#fff"/>
<rect x="143" y="471.5" width="71" height="4.5" fill="#fff"/>
<polygon points="135,472 138,474 135,476.5" fill="#fff"/>
<rect x="135" y="488.5" width="84" height="25.5" fill="#000"/>
<rect x="138" y="490.5" width="3.2" height="5" fill="#fff"/>
<rect x="138" y="506.5" width="3.2" height="5" fill="#fff"/>
<rect x="143.9" y="490.5" width="3.2" height="5" fill="#fff"/>
<rect x="143.9" y="506.5" width="3.2" height="5" fill="#fff"/>
<rect x="149.8" y="490.5" width="3.2" height="5" fill="#fff"/>
<rect x="149.8" y="506.5" width="3.2" height="5" fill="#fff"/>
<rect x="155.7" y="490.5" width="3.2" height="5" fill="#fff"/>
<rect x="155.7" y="506.5" width="3.2" height="5" fill="#fff"/>
<rect x="161.6" y="490.5" width="3.2" height="5" fill="#fff"/>
<rect x="161.6" y="506.5" width="3.2" height="5" fill="#fff"/>
<rect x="167.5" y="490.5" width="3.2" height="5" fill="#fff"/>
<rect x="167.5" y="506.5" width="3.2" height="5" fill="#fff"/>
<rect x="173.4" y="490.5" width="3.2" height="5" fill="#fff"/>
<rect x="173.4" y="506.5" width="3.2" height="5" fill="#fff"/>
<rect x="179.3" y="490.5" width="3.2" height="5" fill="#fff"/>
<rect x="179.3" y="506.5" width="3.2" height="5" fill="#fff"/>
<rect x="185.2" y="490.5" width="3.2" height="5" fill="#fff"/>
<rect x="185.2" y="506.5" width="3.2" height="5" fill="#fff"/>
<rect x="191.1" y="490.5" width="3.2" height="5" fill="#fff"/>
<rect x="191.1" y="506.5" width="3.2" height="5" fill="#fff"/>
<rect x="197" y="490.5" width="3.2" height="5" fill="#fff"/>
<rect x="197" y="506.5" width="3.2" height="5" fill="#fff"/>
<rect x="202.9" y="490.5" width="3.2" height="5" fill="#fff"/>
<rect x="202.9" y="506.5" width="3.2" height="5" fill="#fff"/>
<rect x="208.8" y="490.5" width="3.2" height="5" fill="#fff"/>
<rect x="208.8" y="506.5" width="3.2" height="5" fill="#fff"/>
<rect x="214.7" y="490.5" width="3.2" height="5" fill="#fff"/>
<rect x="214.7" y="506.5" width="3.2" height="5" fill="#fff"/>
<rect x="143" y="498" width="71" height="4.5" fill="#fff"/>
<polygon points="135,498.5 138,500.5 135,503" fill="#fff"/>
<rect x="135" y="515" width="84" height="24.5" fill="#000"/>
<rect x="138" y="517" width="3.2" height="5" fill="#fff"/>
<rect x="138" y="532" width="3.2" height="5" fill="#fff"/>
<rect x="143.9" y="517" width="3.2" height="5" fill="#fff"/>
<rect x="143.9" y="532" width="3.2" height="5" fill="#fff"/>
<rect x="149.8" y="517" width="3.2" height="5" fill="#fff"/>
<rect x="149.8" y="532" width="3.2" height="5" fill="#fff"/>
<rect x="155.7" y="517" width="3.2" height="5" fill="#fff"/>
<rect x="155.7" y="532" width="3.2" height="5" fill="#fff"/>
<rect x="161.6" y="517" width="3.2" height="5" fill="#fff"/>
<rect x="161.6" y="532" width="3.2" height="5" fill="#fff"/>
<rect x="167.5" y="517" width="3.2" height="5" fill="#fff"/>
<rect x="167.5" y="532" width="3.2" height="5" fill="#fff"/>
<rect x="173.4" y="517" width="3.2" height="5" fill="#fff"/>
<rect x="173.4" y="532" width="3.2" height="5" fill="#fff"/>
<rect x="179.3" y="517" width="3.2" height="5" fill="#fff"/>
<rect x="179.3" y="532" width="3.2" height="5" fill="#fff"/>
<rect x="185.2" y="517" width="3.2" height="5" fill="#fff"/>
<rect x="185.2" y="532" width="3.2" height="5" fill="#fff"/>
<rect x="191.1" y="517" width="3.2" height="5" fill="#fff"/>
<rect x="191.1" y="532" width="3.2" height="5" fill="#fff"/>
<rect x="197" y="517" width="3.2" height="5" fill="#fff"/>
<rect x="197" y="532" width="3.2" height="5" fill="#fff"/>
<rect x="202.9" y="517" width="3.2" height="5" fill="#fff"/>
<rect x="202.9" y="532" width="3.2" height="5" fill="#fff"/>
<rect x="208.8" y="517" width="3.2" height="5" fill="#fff"/>
<rect x="208.8" y="532" width="3.2" height="5" fill="#fff"/>
<rect x="214.7" y="517" width="3.2" height="5" fill="#fff"/>
<rect x="214.7" y="532" width="3.2" height="5" fill="#fff"/>
<rect x="143" y="524.5" width="71" height="4.5" fill="#fff"/>
<polygon points="135,525 138,527 135,529.5" fill="#fff"/>
<rect x="175" y="447" width="6" height="84" fill="#000"/>
<rect x="72.5" y="408" width="30" height="17" rx="3" fill="#fff" stroke="#000" stroke-width="1" shape-rendering="auto"/>
<text x="88" y="421" font-size="12" fill="#000" text-anchor="middle" letter-spacing="1.1">TAG</text>
<rect x="80.5" y="451" width="14" height="73.5" rx="2.5" fill="#fff" stroke="#000" stroke-width="1" shape-rendering="auto"/>
<text x="87" y="461.8" font-size="12" fill="#000" text-anchor="middle">B</text>
<text x="87" y="476.8" font-size="12" fill="#000" text-anchor="middle">A</text>
<text x="87" y="491.3" font-size="12" fill="#000" text-anchor="middle">N</text>
<text x="87" y="506.3" font-size="12" fill="#000" text-anchor="middle">K</text>
<text x="87" y="522.3" font-size="12" fill="#000" text-anchor="middle">0</text>
<rect x="170" y="451" width="14.5" height="73.5" rx="2.5" fill="#fff" stroke="#000" stroke-width="1" shape-rendering="auto"/>
<text x="176.75" y="461.8" font-size="12" fill="#000" text-anchor="middle">B</text>
<text x="176.75" y="476.8" font-size="12" fill="#000" text-anchor="middle">A</text>
<text x="176.75" y="491.3" font-size="12" fill="#000" text-anchor="middle">N</text>
<text x="176.75" y="506.3" font-size="12" fill="#000" text-anchor="middle">K</text>
<text x="176.75" y="522.3" font-size="12" fill="#000" text-anchor="middle">1</text>
<rect x="109" y="481" width="47" height="14" rx="2" fill="#fff" stroke="#000" stroke-width="1" shape-rendering="auto"/>
<text x="132.9" y="492.4" font-size="12" fill="#000" text-anchor="middle" letter-spacing="0.7">CACHE</text>
<rect x="283.5" y="391.5" width="225" height="18" fill="#fff" stroke="#000" stroke-width="1"/>
<line x1="283" y1="395.5" x2="291" y2="395.5" stroke="#000" stroke-width="1"/>
<line x1="283" y1="402.5" x2="291" y2="402.5" stroke="#000" stroke-width="1"/>
<rect x="291" y="393" width="4" height="16" fill="#000"/>
<path d="M295 394.5 H304.5 V403.5 H301.5 M301.5 401.5 V409 M301.5 401.5 H297.5 V405 M295 404.5 H298" fill="none" stroke="#000" stroke-width="1"/>
<rect x="309" y="393.5" width="175" height="15" fill="#000"/>
<rect x="309" y="393.5" width="1" height="1" fill="#fff"/>
<rect x="483" y="393.5" width="1" height="1" fill="#fff"/>
<rect x="312" y="394.5" width="4" height="5.5" fill="#fff"/>
<rect x="313.5" y="403" width="1" height="4" fill="#fff"/>
<rect x="318" y="394.5" width="4" height="5.5" fill="#fff"/>
<rect x="319.5" y="403" width="1" height="4" fill="#fff"/>
<rect x="324" y="394.5" width="4" height="5.5" fill="#fff"/>
<rect x="325.5" y="403" width="1" height="4" fill="#fff"/>
<rect x="325.5" y="400" width="1" height="3" fill="#fff"/>
<rect x="330" y="394.5" width="4" height="5.5" fill="#fff"/>
<rect x="331.5" y="403" width="1" height="4" fill="#fff"/>
<rect x="331.5" y="400" width="1" height="3" fill="#fff"/>
<rect x="336" y="394.5" width="4" height="5.5" fill="#fff"/>
<rect x="337.5" y="403" width="1" height="4" fill="#fff"/>
<rect x="342" y="394.5" width="4" height="5.5" fill="#fff"/>
<rect x="343.5" y="403" width="1" height="4" fill="#fff"/>
<rect x="348" y="394.5" width="4" height="5.5" fill="#fff"/>
<rect x="349.5" y="403" width="1" height="4" fill="#fff"/>
<rect x="354" y="394.5" width="4" height="5.5" fill="#fff"/>
<rect x="355.5" y="403" width="1" height="4" fill="#fff"/>
<rect x="360" y="394.5" width="4" height="5.5" fill="#fff"/>
<rect x="361.5" y="403" width="1" height="4" fill="#fff"/>
<rect x="366" y="394.5" width="4" height="5.5" fill="#fff"/>
<rect x="367.5" y="403" width="1" height="4" fill="#fff"/>
<rect x="372" y="394.5" width="4" height="5.5" fill="#fff"/>
<rect x="373.5" y="403" width="1" height="4" fill="#fff"/>
<rect x="373.5" y="400" width="1" height="3" fill="#fff"/>
<rect x="378" y="394.5" width="4" height="5.5" fill="#fff"/>
<rect x="379.5" y="403" width="1" height="4" fill="#fff"/>
<rect x="379.5" y="400" width="1" height="3" fill="#fff"/>
<rect x="384" y="394.5" width="4" height="5.5" fill="#fff"/>
<rect x="385.5" y="403" width="1" height="4" fill="#fff"/>
<rect x="390" y="394.5" width="4" height="5.5" fill="#fff"/>
<rect x="391.5" y="403" width="1" height="4" fill="#fff"/>
<rect x="396" y="394.5" width="4" height="5.5" fill="#fff"/>
<rect x="397.5" y="403" width="1" height="4" fill="#fff"/>
<rect x="402" y="394.5" width="4" height="5.5" fill="#fff"/>
<rect x="403.5" y="403" width="1" height="4" fill="#fff"/>
<rect x="408" y="394.5" width="4" height="5.5" fill="#fff"/>
<rect x="409.5" y="403" width="1" height="4" fill="#fff"/>
<rect x="414" y="394.5" width="4" height="5.5" fill="#fff"/>
<rect x="415.5" y="403" width="1" height="4" fill="#fff"/>
<rect x="420" y="394.5" width="4" height="5.5" fill="#fff"/>
<rect x="421.5" y="403" width="1" height="4" fill="#fff"/>
<rect x="421.5" y="400" width="1" height="3" fill="#fff"/>
<rect x="426" y="394.5" width="4" height="5.5" fill="#fff"/>
<rect x="427.5" y="403" width="1" height="4" fill="#fff"/>
<rect x="427.5" y="400" width="1" height="3" fill="#fff"/>
<rect x="432" y="394.5" width="4" height="5.5" fill="#fff"/>
<rect x="433.5" y="403" width="1" height="4" fill="#fff"/>
<rect x="438" y="394.5" width="4" height="5.5" fill="#fff"/>
<rect x="439.5" y="403" width="1" height="4" fill="#fff"/>
<rect x="444" y="394.5" width="4" height="5.5" fill="#fff"/>
<rect x="445.5" y="403" width="1" height="4" fill="#fff"/>
<rect x="450" y="394.5" width="4" height="5.5" fill="#fff"/>
<rect x="451.5" y="403" width="1" height="4" fill="#fff"/>
<rect x="456" y="394.5" width="4" height="5.5" fill="#fff"/>
<rect x="457.5" y="403" width="1" height="4" fill="#fff"/>
<rect x="462" y="394.5" width="4" height="5.5" fill="#fff"/>
<rect x="463.5" y="403" width="1" height="4" fill="#fff"/>
<rect x="468" y="394.5" width="4" height="5.5" fill="#fff"/>
<rect x="469.5" y="403" width="1" height="4" fill="#fff"/>
<rect x="469.5" y="400" width="1" height="3" fill="#fff"/>
<rect x="474" y="394.5" width="4" height="5.5" fill="#fff"/>
<rect x="475.5" y="403" width="1" height="4" fill="#fff"/>
<rect x="475.5" y="400" width="1" height="3" fill="#fff"/>
<rect x="480" y="394.5" width="4" height="5.5" fill="#fff"/>
<rect x="481.5" y="403" width="1" height="4" fill="#fff"/>
<path d="M498 394.5 H488.5 V403.5 H491.5 M491.5 401.5 V409 M491.5 401.5 H495.5 V405 M498 404.5 H495" fill="none" stroke="#000" stroke-width="1"/>
<rect x="498" y="393" width="4" height="16" fill="#000"/>
<line x1="502" y1="396.5" x2="509" y2="396.5" stroke="#000" stroke-width="1"/>
<line x1="502" y1="403.5" x2="509" y2="403.5" stroke="#000" stroke-width="1"/>
<rect x="283.5" y="411.5" width="225" height="18" fill="#fff" stroke="#000" stroke-width="1"/>
<line x1="283" y1="415.5" x2="291" y2="415.5" stroke="#000" stroke-width="1"/>
<line x1="283" y1="422.5" x2="291" y2="422.5" stroke="#000" stroke-width="1"/>
<rect x="291" y="413" width="4" height="16" fill="#000"/>
<path d="M295 414.5 H304.5 V423.5 H301.5 M301.5 421.5 V429 M301.5 421.5 H297.5 V425 M295 424.5 H298" fill="none" stroke="#000" stroke-width="1"/>
<rect x="309" y="413.5" width="175" height="15" fill="#000"/>
<rect x="309" y="413.5" width="1" height="1" fill="#fff"/>
<rect x="483" y="413.5" width="1" height="1" fill="#fff"/>
<rect x="312" y="414.5" width="4" height="5.5" fill="#fff"/>
<rect x="313.5" y="423" width="1" height="4" fill="#fff"/>
<rect x="318" y="414.5" width="4" height="5.5" fill="#fff"/>
<rect x="319.5" y="423" width="1" height="4" fill="#fff"/>
<rect x="324" y="414.5" width="4" height="5.5" fill="#fff"/>
<rect x="325.5" y="423" width="1" height="4" fill="#fff"/>
<rect x="325.5" y="420" width="1" height="3" fill="#fff"/>
<rect x="330" y="414.5" width="4" height="5.5" fill="#fff"/>
<rect x="331.5" y="423" width="1" height="4" fill="#fff"/>
<rect x="331.5" y="420" width="1" height="3" fill="#fff"/>
<rect x="336" y="414.5" width="4" height="5.5" fill="#fff"/>
<rect x="337.5" y="423" width="1" height="4" fill="#fff"/>
<rect x="342" y="414.5" width="4" height="5.5" fill="#fff"/>
<rect x="343.5" y="423" width="1" height="4" fill="#fff"/>
<rect x="348" y="414.5" width="4" height="5.5" fill="#fff"/>
<rect x="349.5" y="423" width="1" height="4" fill="#fff"/>
<rect x="354" y="414.5" width="4" height="5.5" fill="#fff"/>
<rect x="355.5" y="423" width="1" height="4" fill="#fff"/>
<rect x="360" y="414.5" width="4" height="5.5" fill="#fff"/>
<rect x="361.5" y="423" width="1" height="4" fill="#fff"/>
<rect x="366" y="414.5" width="4" height="5.5" fill="#fff"/>
<rect x="367.5" y="423" width="1" height="4" fill="#fff"/>
<rect x="372" y="414.5" width="4" height="5.5" fill="#fff"/>
<rect x="373.5" y="423" width="1" height="4" fill="#fff"/>
<rect x="373.5" y="420" width="1" height="3" fill="#fff"/>
<rect x="378" y="414.5" width="4" height="5.5" fill="#fff"/>
<rect x="379.5" y="423" width="1" height="4" fill="#fff"/>
<rect x="379.5" y="420" width="1" height="3" fill="#fff"/>
<rect x="384" y="414.5" width="4" height="5.5" fill="#fff"/>
<rect x="385.5" y="423" width="1" height="4" fill="#fff"/>
<rect x="390" y="414.5" width="4" height="5.5" fill="#fff"/>
<rect x="391.5" y="423" width="1" height="4" fill="#fff"/>
<rect x="396" y="414.5" width="4" height="5.5" fill="#fff"/>
<rect x="397.5" y="423" width="1" height="4" fill="#fff"/>
<rect x="402" y="414.5" width="4" height="5.5" fill="#fff"/>
<rect x="403.5" y="423" width="1" height="4" fill="#fff"/>
<rect x="408" y="414.5" width="4" height="5.5" fill="#fff"/>
<rect x="409.5" y="423" width="1" height="4" fill="#fff"/>
<rect x="414" y="414.5" width="4" height="5.5" fill="#fff"/>
<rect x="415.5" y="423" width="1" height="4" fill="#fff"/>
<rect x="420" y="414.5" width="4" height="5.5" fill="#fff"/>
<rect x="421.5" y="423" width="1" height="4" fill="#fff"/>
<rect x="421.5" y="420" width="1" height="3" fill="#fff"/>
<rect x="426" y="414.5" width="4" height="5.5" fill="#fff"/>
<rect x="427.5" y="423" width="1" height="4" fill="#fff"/>
<rect x="427.5" y="420" width="1" height="3" fill="#fff"/>
<rect x="432" y="414.5" width="4" height="5.5" fill="#fff"/>
<rect x="433.5" y="423" width="1" height="4" fill="#fff"/>
<rect x="438" y="414.5" width="4" height="5.5" fill="#fff"/>
<rect x="439.5" y="423" width="1" height="4" fill="#fff"/>
<rect x="444" y="414.5" width="4" height="5.5" fill="#fff"/>
<rect x="445.5" y="423" width="1" height="4" fill="#fff"/>
<rect x="450" y="414.5" width="4" height="5.5" fill="#fff"/>
<rect x="451.5" y="423" width="1" height="4" fill="#fff"/>
<rect x="456" y="414.5" width="4" height="5.5" fill="#fff"/>
<rect x="457.5" y="423" width="1" height="4" fill="#fff"/>
<rect x="462" y="414.5" width="4" height="5.5" fill="#fff"/>
<rect x="463.5" y="423" width="1" height="4" fill="#fff"/>
<rect x="468" y="414.5" width="4" height="5.5" fill="#fff"/>
<rect x="469.5" y="423" width="1" height="4" fill="#fff"/>
<rect x="469.5" y="420" width="1" height="3" fill="#fff"/>
<rect x="474" y="414.5" width="4" height="5.5" fill="#fff"/>
<rect x="475.5" y="423" width="1" height="4" fill="#fff"/>
<rect x="475.5" y="420" width="1" height="3" fill="#fff"/>
<rect x="480" y="414.5" width="4" height="5.5" fill="#fff"/>
<rect x="481.5" y="423" width="1" height="4" fill="#fff"/>
<path d="M498 414.5 H488.5 V423.5 H491.5 M491.5 421.5 V429 M491.5 421.5 H495.5 V425 M498 424.5 H495" fill="none" stroke="#000" stroke-width="1"/>
<rect x="498" y="413" width="4" height="16" fill="#000"/>
<line x1="502" y1="416.5" x2="509" y2="416.5" stroke="#000" stroke-width="1"/>
<line x1="502" y1="423.5" x2="509" y2="423.5" stroke="#000" stroke-width="1"/>
<rect x="283.5" y="430.5" width="225" height="18" fill="#fff" stroke="#000" stroke-width="1"/>
<line x1="283" y1="434.5" x2="291" y2="434.5" stroke="#000" stroke-width="1"/>
<line x1="283" y1="441.5" x2="291" y2="441.5" stroke="#000" stroke-width="1"/>
<rect x="291" y="432" width="4" height="16" fill="#000"/>
<path d="M295 433.5 H304.5 V442.5 H301.5 M301.5 440.5 V448 M301.5 440.5 H297.5 V444 M295 443.5 H298" fill="none" stroke="#000" stroke-width="1"/>
<rect x="309" y="432.5" width="175" height="15" fill="#000"/>
<rect x="309" y="432.5" width="1" height="1" fill="#fff"/>
<rect x="483" y="432.5" width="1" height="1" fill="#fff"/>
<rect x="312" y="433.5" width="4" height="5.5" fill="#fff"/>
<rect x="313.5" y="442" width="1" height="4" fill="#fff"/>
<rect x="318" y="433.5" width="4" height="5.5" fill="#fff"/>
<rect x="319.5" y="442" width="1" height="4" fill="#fff"/>
<rect x="324" y="433.5" width="4" height="5.5" fill="#fff"/>
<rect x="325.5" y="442" width="1" height="4" fill="#fff"/>
<rect x="325.5" y="439" width="1" height="3" fill="#fff"/>
<rect x="330" y="433.5" width="4" height="5.5" fill="#fff"/>
<rect x="331.5" y="442" width="1" height="4" fill="#fff"/>
<rect x="331.5" y="439" width="1" height="3" fill="#fff"/>
<rect x="336" y="433.5" width="4" height="5.5" fill="#fff"/>
<rect x="337.5" y="442" width="1" height="4" fill="#fff"/>
<rect x="342" y="433.5" width="4" height="5.5" fill="#fff"/>
<rect x="343.5" y="442" width="1" height="4" fill="#fff"/>
<rect x="348" y="433.5" width="4" height="5.5" fill="#fff"/>
<rect x="349.5" y="442" width="1" height="4" fill="#fff"/>
<rect x="354" y="433.5" width="4" height="5.5" fill="#fff"/>
<rect x="355.5" y="442" width="1" height="4" fill="#fff"/>
<rect x="360" y="433.5" width="4" height="5.5" fill="#fff"/>
<rect x="361.5" y="442" width="1" height="4" fill="#fff"/>
<rect x="366" y="433.5" width="4" height="5.5" fill="#fff"/>
<rect x="367.5" y="442" width="1" height="4" fill="#fff"/>
<rect x="372" y="433.5" width="4" height="5.5" fill="#fff"/>
<rect x="373.5" y="442" width="1" height="4" fill="#fff"/>
<rect x="373.5" y="439" width="1" height="3" fill="#fff"/>
<rect x="378" y="433.5" width="4" height="5.5" fill="#fff"/>
<rect x="379.5" y="442" width="1" height="4" fill="#fff"/>
<rect x="379.5" y="439" width="1" height="3" fill="#fff"/>
<rect x="384" y="433.5" width="4" height="5.5" fill="#fff"/>
<rect x="385.5" y="442" width="1" height="4" fill="#fff"/>
<rect x="390" y="433.5" width="4" height="5.5" fill="#fff"/>
<rect x="391.5" y="442" width="1" height="4" fill="#fff"/>
<rect x="396" y="433.5" width="4" height="5.5" fill="#fff"/>
<rect x="397.5" y="442" width="1" height="4" fill="#fff"/>
<rect x="402" y="433.5" width="4" height="5.5" fill="#fff"/>
<rect x="403.5" y="442" width="1" height="4" fill="#fff"/>
<rect x="408" y="433.5" width="4" height="5.5" fill="#fff"/>
<rect x="409.5" y="442" width="1" height="4" fill="#fff"/>
<rect x="414" y="433.5" width="4" height="5.5" fill="#fff"/>
<rect x="415.5" y="442" width="1" height="4" fill="#fff"/>
<rect x="420" y="433.5" width="4" height="5.5" fill="#fff"/>
<rect x="421.5" y="442" width="1" height="4" fill="#fff"/>
<rect x="421.5" y="439" width="1" height="3" fill="#fff"/>
<rect x="426" y="433.5" width="4" height="5.5" fill="#fff"/>
<rect x="427.5" y="442" width="1" height="4" fill="#fff"/>
<rect x="427.5" y="439" width="1" height="3" fill="#fff"/>
<rect x="432" y="433.5" width="4" height="5.5" fill="#fff"/>
<rect x="433.5" y="442" width="1" height="4" fill="#fff"/>
<rect x="438" y="433.5" width="4" height="5.5" fill="#fff"/>
<rect x="439.5" y="442" width="1" height="4" fill="#fff"/>
<rect x="444" y="433.5" width="4" height="5.5" fill="#fff"/>
<rect x="445.5" y="442" width="1" height="4" fill="#fff"/>
<rect x="450" y="433.5" width="4" height="5.5" fill="#fff"/>
<rect x="451.5" y="442" width="1" height="4" fill="#fff"/>
<rect x="456" y="433.5" width="4" height="5.5" fill="#fff"/>
<rect x="457.5" y="442" width="1" height="4" fill="#fff"/>
<rect x="462" y="433.5" width="4" height="5.5" fill="#fff"/>
<rect x="463.5" y="442" width="1" height="4" fill="#fff"/>
<rect x="468" y="433.5" width="4" height="5.5" fill="#fff"/>
<rect x="469.5" y="442" width="1" height="4" fill="#fff"/>
<rect x="469.5" y="439" width="1" height="3" fill="#fff"/>
<rect x="474" y="433.5" width="4" height="5.5" fill="#fff"/>
<rect x="475.5" y="442" width="1" height="4" fill="#fff"/>
<rect x="475.5" y="439" width="1" height="3" fill="#fff"/>
<rect x="480" y="433.5" width="4" height="5.5" fill="#fff"/>
<rect x="481.5" y="442" width="1" height="4" fill="#fff"/>
<path d="M498 433.5 H488.5 V442.5 H491.5 M491.5 440.5 V448 M491.5 440.5 H495.5 V444 M498 443.5 H495" fill="none" stroke="#000" stroke-width="1"/>
<rect x="498" y="432" width="4" height="16" fill="#000"/>
<line x1="502" y1="435.5" x2="509" y2="435.5" stroke="#000" stroke-width="1"/>
<line x1="502" y1="442.5" x2="509" y2="442.5" stroke="#000" stroke-width="1"/>
<rect x="283.5" y="449.5" width="225" height="18" fill="#fff" stroke="#000" stroke-width="1"/>
<line x1="283" y1="453.5" x2="291" y2="453.5" stroke="#000" stroke-width="1"/>
<line x1="283" y1="460.5" x2="291" y2="460.5" stroke="#000" stroke-width="1"/>
<rect x="291" y="451" width="4" height="16" fill="#000"/>
<path d="M295 452.5 H304.5 V461.5 H301.5 M301.5 459.5 V467 M301.5 459.5 H297.5 V463 M295 462.5 H298" fill="none" stroke="#000" stroke-width="1"/>
<rect x="309" y="451.5" width="175" height="15" fill="#000"/>
<rect x="309" y="451.5" width="1" height="1" fill="#fff"/>
<rect x="483" y="451.5" width="1" height="1" fill="#fff"/>
<rect x="312" y="452.5" width="4" height="5.5" fill="#fff"/>
<rect x="313.5" y="461" width="1" height="4" fill="#fff"/>
<rect x="318" y="452.5" width="4" height="5.5" fill="#fff"/>
<rect x="319.5" y="461" width="1" height="4" fill="#fff"/>
<rect x="324" y="452.5" width="4" height="5.5" fill="#fff"/>
<rect x="325.5" y="461" width="1" height="4" fill="#fff"/>
<rect x="325.5" y="458" width="1" height="3" fill="#fff"/>
<rect x="330" y="452.5" width="4" height="5.5" fill="#fff"/>
<rect x="331.5" y="461" width="1" height="4" fill="#fff"/>
<rect x="331.5" y="458" width="1" height="3" fill="#fff"/>
<rect x="336" y="452.5" width="4" height="5.5" fill="#fff"/>
<rect x="337.5" y="461" width="1" height="4" fill="#fff"/>
<rect x="342" y="452.5" width="4" height="5.5" fill="#fff"/>
<rect x="343.5" y="461" width="1" height="4" fill="#fff"/>
<rect x="348" y="452.5" width="4" height="5.5" fill="#fff"/>
<rect x="349.5" y="461" width="1" height="4" fill="#fff"/>
<rect x="354" y="452.5" width="4" height="5.5" fill="#fff"/>
<rect x="355.5" y="461" width="1" height="4" fill="#fff"/>
<rect x="360" y="452.5" width="4" height="5.5" fill="#fff"/>
<rect x="361.5" y="461" width="1" height="4" fill="#fff"/>
<rect x="366" y="452.5" width="4" height="5.5" fill="#fff"/>
<rect x="367.5" y="461" width="1" height="4" fill="#fff"/>
<rect x="372" y="452.5" width="4" height="5.5" fill="#fff"/>
<rect x="373.5" y="461" width="1" height="4" fill="#fff"/>
<rect x="373.5" y="458" width="1" height="3" fill="#fff"/>
<rect x="378" y="452.5" width="4" height="5.5" fill="#fff"/>
<rect x="379.5" y="461" width="1" height="4" fill="#fff"/>
<rect x="379.5" y="458" width="1" height="3" fill="#fff"/>
<rect x="384" y="452.5" width="4" height="5.5" fill="#fff"/>
<rect x="385.5" y="461" width="1" height="4" fill="#fff"/>
<rect x="390" y="452.5" width="4" height="5.5" fill="#fff"/>
<rect x="391.5" y="461" width="1" height="4" fill="#fff"/>
<rect x="396" y="452.5" width="4" height="5.5" fill="#fff"/>
<rect x="397.5" y="461" width="1" height="4" fill="#fff"/>
<rect x="402" y="452.5" width="4" height="5.5" fill="#fff"/>
<rect x="403.5" y="461" width="1" height="4" fill="#fff"/>
<rect x="408" y="452.5" width="4" height="5.5" fill="#fff"/>
<rect x="409.5" y="461" width="1" height="4" fill="#fff"/>
<rect x="414" y="452.5" width="4" height="5.5" fill="#fff"/>
<rect x="415.5" y="461" width="1" height="4" fill="#fff"/>
<rect x="420" y="452.5" width="4" height="5.5" fill="#fff"/>
<rect x="421.5" y="461" width="1" height="4" fill="#fff"/>
<rect x="421.5" y="458" width="1" height="3" fill="#fff"/>
<rect x="426" y="452.5" width="4" height="5.5" fill="#fff"/>
<rect x="427.5" y="461" width="1" height="4" fill="#fff"/>
<rect x="427.5" y="458" width="1" height="3" fill="#fff"/>
<rect x="432" y="452.5" width="4" height="5.5" fill="#fff"/>
<rect x="433.5" y="461" width="1" height="4" fill="#fff"/>
<rect x="438" y="452.5" width="4" height="5.5" fill="#fff"/>
<rect x="439.5" y="461" width="1" height="4" fill="#fff"/>
<rect x="444" y="452.5" width="4" height="5.5" fill="#fff"/>
<rect x="445.5" y="461" width="1" height="4" fill="#fff"/>
<rect x="450" y="452.5" width="4" height="5.5" fill="#fff"/>
<rect x="451.5" y="461" width="1" height="4" fill="#fff"/>
<rect x="456" y="452.5" width="4" height="5.5" fill="#fff"/>
<rect x="457.5" y="461" width="1" height="4" fill="#fff"/>
<rect x="462" y="452.5" width="4" height="5.5" fill="#fff"/>
<rect x="463.5" y="461" width="1" height="4" fill="#fff"/>
<rect x="468" y="452.5" width="4" height="5.5" fill="#fff"/>
<rect x="469.5" y="461" width="1" height="4" fill="#fff"/>
<rect x="469.5" y="458" width="1" height="3" fill="#fff"/>
<rect x="474" y="452.5" width="4" height="5.5" fill="#fff"/>
<rect x="475.5" y="461" width="1" height="4" fill="#fff"/>
<rect x="475.5" y="458" width="1" height="3" fill="#fff"/>
<rect x="480" y="452.5" width="4" height="5.5" fill="#fff"/>
<rect x="481.5" y="461" width="1" height="4" fill="#fff"/>
<path d="M498 452.5 H488.5 V461.5 H491.5 M491.5 459.5 V467 M491.5 459.5 H495.5 V463 M498 462.5 H495" fill="none" stroke="#000" stroke-width="1"/>
<rect x="498" y="451" width="4" height="16" fill="#000"/>
<line x1="502" y1="454.5" x2="509" y2="454.5" stroke="#000" stroke-width="1"/>
<line x1="502" y1="461.5" x2="509" y2="461.5" stroke="#000" stroke-width="1"/>
<rect x="283.5" y="470.5" width="225" height="17" fill="#fff" stroke="#000" stroke-width="1"/>
<line x1="283" y1="474.5" x2="291" y2="474.5" stroke="#000" stroke-width="1"/>
<line x1="283" y1="481.5" x2="291" y2="481.5" stroke="#000" stroke-width="1"/>
<rect x="291" y="472" width="4" height="15" fill="#000"/>
<path d="M295 473.5 H304.5 V482.5 H301.5 M301.5 480.5 V487 M301.5 480.5 H297.5 V484 M295 483.5 H298" fill="none" stroke="#000" stroke-width="1"/>
<rect x="309" y="472.5" width="175" height="14" fill="#000"/>
<rect x="309" y="472.5" width="1" height="1" fill="#fff"/>
<rect x="483" y="472.5" width="1" height="1" fill="#fff"/>
<rect x="312" y="473.5" width="4" height="5.5" fill="#fff"/>
<rect x="313.5" y="482" width="1" height="4" fill="#fff"/>
<rect x="318" y="473.5" width="4" height="5.5" fill="#fff"/>
<rect x="319.5" y="482" width="1" height="4" fill="#fff"/>
<rect x="324" y="473.5" width="4" height="5.5" fill="#fff"/>
<rect x="325.5" y="482" width="1" height="4" fill="#fff"/>
<rect x="325.5" y="479" width="1" height="3" fill="#fff"/>
<rect x="330" y="473.5" width="4" height="5.5" fill="#fff"/>
<rect x="331.5" y="482" width="1" height="4" fill="#fff"/>
<rect x="331.5" y="479" width="1" height="3" fill="#fff"/>
<rect x="336" y="473.5" width="4" height="5.5" fill="#fff"/>
<rect x="337.5" y="482" width="1" height="4" fill="#fff"/>
<rect x="342" y="473.5" width="4" height="5.5" fill="#fff"/>
<rect x="343.5" y="482" width="1" height="4" fill="#fff"/>
<rect x="348" y="473.5" width="4" height="5.5" fill="#fff"/>
<rect x="349.5" y="482" width="1" height="4" fill="#fff"/>
<rect x="354" y="473.5" width="4" height="5.5" fill="#fff"/>
<rect x="355.5" y="482" width="1" height="4" fill="#fff"/>
<rect x="360" y="473.5" width="4" height="5.5" fill="#fff"/>
<rect x="361.5" y="482" width="1" height="4" fill="#fff"/>
<rect x="366" y="473.5" width="4" height="5.5" fill="#fff"/>
<rect x="367.5" y="482" width="1" height="4" fill="#fff"/>
<rect x="372" y="473.5" width="4" height="5.5" fill="#fff"/>
<rect x="373.5" y="482" width="1" height="4" fill="#fff"/>
<rect x="373.5" y="479" width="1" height="3" fill="#fff"/>
<rect x="378" y="473.5" width="4" height="5.5" fill="#fff"/>
<rect x="379.5" y="482" width="1" height="4" fill="#fff"/>
<rect x="379.5" y="479" width="1" height="3" fill="#fff"/>
<rect x="384" y="473.5" width="4" height="5.5" fill="#fff"/>
<rect x="385.5" y="482" width="1" height="4" fill="#fff"/>
<rect x="390" y="473.5" width="4" height="5.5" fill="#fff"/>
<rect x="391.5" y="482" width="1" height="4" fill="#fff"/>
<rect x="396" y="473.5" width="4" height="5.5" fill="#fff"/>
<rect x="397.5" y="482" width="1" height="4" fill="#fff"/>
<rect x="402" y="473.5" width="4" height="5.5" fill="#fff"/>
<rect x="403.5" y="482" width="1" height="4" fill="#fff"/>
<rect x="408" y="473.5" width="4" height="5.5" fill="#fff"/>
<rect x="409.5" y="482" width="1" height="4" fill="#fff"/>
<rect x="414" y="473.5" width="4" height="5.5" fill="#fff"/>
<rect x="415.5" y="482" width="1" height="4" fill="#fff"/>
<rect x="420" y="473.5" width="4" height="5.5" fill="#fff"/>
<rect x="421.5" y="482" width="1" height="4" fill="#fff"/>
<rect x="421.5" y="479" width="1" height="3" fill="#fff"/>
<rect x="426" y="473.5" width="4" height="5.5" fill="#fff"/>
<rect x="427.5" y="482" width="1" height="4" fill="#fff"/>
<rect x="427.5" y="479" width="1" height="3" fill="#fff"/>
<rect x="432" y="473.5" width="4" height="5.5" fill="#fff"/>
<rect x="433.5" y="482" width="1" height="4" fill="#fff"/>
<rect x="438" y="473.5" width="4" height="5.5" fill="#fff"/>
<rect x="439.5" y="482" width="1" height="4" fill="#fff"/>
<rect x="444" y="473.5" width="4" height="5.5" fill="#fff"/>
<rect x="445.5" y="482" width="1" height="4" fill="#fff"/>
<rect x="450" y="473.5" width="4" height="5.5" fill="#fff"/>
<rect x="451.5" y="482" width="1" height="4" fill="#fff"/>
<rect x="456" y="473.5" width="4" height="5.5" fill="#fff"/>
<rect x="457.5" y="482" width="1" height="4" fill="#fff"/>
<rect x="462" y="473.5" width="4" height="5.5" fill="#fff"/>
<rect x="463.5" y="482" width="1" height="4" fill="#fff"/>
<rect x="468" y="473.5" width="4" height="5.5" fill="#fff"/>
<rect x="469.5" y="482" width="1" height="4" fill="#fff"/>
<rect x="469.5" y="479" width="1" height="3" fill="#fff"/>
<rect x="474" y="473.5" width="4" height="5.5" fill="#fff"/>
<rect x="475.5" y="482" width="1" height="4" fill="#fff"/>
<rect x="475.5" y="479" width="1" height="3" fill="#fff"/>
<rect x="480" y="473.5" width="4" height="5.5" fill="#fff"/>
<rect x="481.5" y="482" width="1" height="4" fill="#fff"/>
<path d="M498 473.5 H488.5 V482.5 H491.5 M491.5 480.5 V487 M491.5 480.5 H495.5 V484 M498 483.5 H495" fill="none" stroke="#000" stroke-width="1"/>
<rect x="498" y="472" width="4" height="15" fill="#000"/>
<line x1="502" y1="475.5" x2="509" y2="475.5" stroke="#000" stroke-width="1"/>
<line x1="502" y1="482.5" x2="509" y2="482.5" stroke="#000" stroke-width="1"/>
<rect x="283.5" y="488.5" width="225" height="18" fill="#fff" stroke="#000" stroke-width="1"/>
<line x1="283" y1="492.5" x2="291" y2="492.5" stroke="#000" stroke-width="1"/>
<line x1="283" y1="499.5" x2="291" y2="499.5" stroke="#000" stroke-width="1"/>
<rect x="291" y="490" width="4" height="16" fill="#000"/>
<path d="M295 491.5 H304.5 V500.5 H301.5 M301.5 498.5 V506 M301.5 498.5 H297.5 V502 M295 501.5 H298" fill="none" stroke="#000" stroke-width="1"/>
<rect x="309" y="490.5" width="175" height="15" fill="#000"/>
<rect x="309" y="490.5" width="1" height="1" fill="#fff"/>
<rect x="483" y="490.5" width="1" height="1" fill="#fff"/>
<rect x="312" y="491.5" width="4" height="5.5" fill="#fff"/>
<rect x="313.5" y="500" width="1" height="4" fill="#fff"/>
<rect x="318" y="491.5" width="4" height="5.5" fill="#fff"/>
<rect x="319.5" y="500" width="1" height="4" fill="#fff"/>
<rect x="324" y="491.5" width="4" height="5.5" fill="#fff"/>
<rect x="325.5" y="500" width="1" height="4" fill="#fff"/>
<rect x="325.5" y="497" width="1" height="3" fill="#fff"/>
<rect x="330" y="491.5" width="4" height="5.5" fill="#fff"/>
<rect x="331.5" y="500" width="1" height="4" fill="#fff"/>
<rect x="331.5" y="497" width="1" height="3" fill="#fff"/>
<rect x="336" y="491.5" width="4" height="5.5" fill="#fff"/>
<rect x="337.5" y="500" width="1" height="4" fill="#fff"/>
<rect x="342" y="491.5" width="4" height="5.5" fill="#fff"/>
<rect x="343.5" y="500" width="1" height="4" fill="#fff"/>
<rect x="348" y="491.5" width="4" height="5.5" fill="#fff"/>
<rect x="349.5" y="500" width="1" height="4" fill="#fff"/>
<rect x="354" y="491.5" width="4" height="5.5" fill="#fff"/>
<rect x="355.5" y="500" width="1" height="4" fill="#fff"/>
<rect x="360" y="491.5" width="4" height="5.5" fill="#fff"/>
<rect x="361.5" y="500" width="1" height="4" fill="#fff"/>
<rect x="366" y="491.5" width="4" height="5.5" fill="#fff"/>
<rect x="367.5" y="500" width="1" height="4" fill="#fff"/>
<rect x="372" y="491.5" width="4" height="5.5" fill="#fff"/>
<rect x="373.5" y="500" width="1" height="4" fill="#fff"/>
<rect x="373.5" y="497" width="1" height="3" fill="#fff"/>
<rect x="378" y="491.5" width="4" height="5.5" fill="#fff"/>
<rect x="379.5" y="500" width="1" height="4" fill="#fff"/>
<rect x="379.5" y="497" width="1" height="3" fill="#fff"/>
<rect x="384" y="491.5" width="4" height="5.5" fill="#fff"/>
<rect x="385.5" y="500" width="1" height="4" fill="#fff"/>
<rect x="390" y="491.5" width="4" height="5.5" fill="#fff"/>
<rect x="391.5" y="500" width="1" height="4" fill="#fff"/>
<rect x="396" y="491.5" width="4" height="5.5" fill="#fff"/>
<rect x="397.5" y="500" width="1" height="4" fill="#fff"/>
<rect x="402" y="491.5" width="4" height="5.5" fill="#fff"/>
<rect x="403.5" y="500" width="1" height="4" fill="#fff"/>
<rect x="408" y="491.5" width="4" height="5.5" fill="#fff"/>
<rect x="409.5" y="500" width="1" height="4" fill="#fff"/>
<rect x="414" y="491.5" width="4" height="5.5" fill="#fff"/>
<rect x="415.5" y="500" width="1" height="4" fill="#fff"/>
<rect x="420" y="491.5" width="4" height="5.5" fill="#fff"/>
<rect x="421.5" y="500" width="1" height="4" fill="#fff"/>
<rect x="421.5" y="497" width="1" height="3" fill="#fff"/>
<rect x="426" y="491.5" width="4" height="5.5" fill="#fff"/>
<rect x="427.5" y="500" width="1" height="4" fill="#fff"/>
<rect x="427.5" y="497" width="1" height="3" fill="#fff"/>
<rect x="432" y="491.5" width="4" height="5.5" fill="#fff"/>
<rect x="433.5" y="500" width="1" height="4" fill="#fff"/>
<rect x="438" y="491.5" width="4" height="5.5" fill="#fff"/>
<rect x="439.5" y="500" width="1" height="4" fill="#fff"/>
<rect x="444" y="491.5" width="4" height="5.5" fill="#fff"/>
<rect x="445.5" y="500" width="1" height="4" fill="#fff"/>
<rect x="450" y="491.5" width="4" height="5.5" fill="#fff"/>
<rect x="451.5" y="500" width="1" height="4" fill="#fff"/>
<rect x="456" y="491.5" width="4" height="5.5" fill="#fff"/>
<rect x="457.5" y="500" width="1" height="4" fill="#fff"/>
<rect x="462" y="491.5" width="4" height="5.5" fill="#fff"/>
<rect x="463.5" y="500" width="1" height="4" fill="#fff"/>
<rect x="468" y="491.5" width="4" height="5.5" fill="#fff"/>
<rect x="469.5" y="500" width="1" height="4" fill="#fff"/>
<rect x="469.5" y="497" width="1" height="3" fill="#fff"/>
<rect x="474" y="491.5" width="4" height="5.5" fill="#fff"/>
<rect x="475.5" y="500" width="1" height="4" fill="#fff"/>
<rect x="475.5" y="497" width="1" height="3" fill="#fff"/>
<rect x="480" y="491.5" width="4" height="5.5" fill="#fff"/>
<rect x="481.5" y="500" width="1" height="4" fill="#fff"/>
<path d="M498 491.5 H488.5 V500.5 H491.5 M491.5 498.5 V506 M491.5 498.5 H495.5 V502 M498 501.5 H495" fill="none" stroke="#000" stroke-width="1"/>
<rect x="498" y="490" width="4" height="16" fill="#000"/>
<line x1="502" y1="493.5" x2="509" y2="493.5" stroke="#000" stroke-width="1"/>
<line x1="502" y1="500.5" x2="509" y2="500.5" stroke="#000" stroke-width="1"/>
<rect x="283.5" y="507.5" width="225" height="18" fill="#fff" stroke="#000" stroke-width="1"/>
<line x1="283" y1="511.5" x2="291" y2="511.5" stroke="#000" stroke-width="1"/>
<line x1="283" y1="518.5" x2="291" y2="518.5" stroke="#000" stroke-width="1"/>
<rect x="291" y="509" width="4" height="16" fill="#000"/>
<path d="M295 510.5 H304.5 V519.5 H301.5 M301.5 517.5 V525 M301.5 517.5 H297.5 V521 M295 520.5 H298" fill="none" stroke="#000" stroke-width="1"/>
<rect x="309" y="509.5" width="175" height="15" fill="#000"/>
<rect x="309" y="509.5" width="1" height="1" fill="#fff"/>
<rect x="483" y="509.5" width="1" height="1" fill="#fff"/>
<rect x="312" y="510.5" width="4" height="5.5" fill="#fff"/>
<rect x="313.5" y="519" width="1" height="4" fill="#fff"/>
<rect x="318" y="510.5" width="4" height="5.5" fill="#fff"/>
<rect x="319.5" y="519" width="1" height="4" fill="#fff"/>
<rect x="324" y="510.5" width="4" height="5.5" fill="#fff"/>
<rect x="325.5" y="519" width="1" height="4" fill="#fff"/>
<rect x="325.5" y="516" width="1" height="3" fill="#fff"/>
<rect x="330" y="510.5" width="4" height="5.5" fill="#fff"/>
<rect x="331.5" y="519" width="1" height="4" fill="#fff"/>
<rect x="331.5" y="516" width="1" height="3" fill="#fff"/>
<rect x="336" y="510.5" width="4" height="5.5" fill="#fff"/>
<rect x="337.5" y="519" width="1" height="4" fill="#fff"/>
<rect x="342" y="510.5" width="4" height="5.5" fill="#fff"/>
<rect x="343.5" y="519" width="1" height="4" fill="#fff"/>
<rect x="348" y="510.5" width="4" height="5.5" fill="#fff"/>
<rect x="349.5" y="519" width="1" height="4" fill="#fff"/>
<rect x="354" y="510.5" width="4" height="5.5" fill="#fff"/>
<rect x="355.5" y="519" width="1" height="4" fill="#fff"/>
<rect x="360" y="510.5" width="4" height="5.5" fill="#fff"/>
<rect x="361.5" y="519" width="1" height="4" fill="#fff"/>
<rect x="366" y="510.5" width="4" height="5.5" fill="#fff"/>
<rect x="367.5" y="519" width="1" height="4" fill="#fff"/>
<rect x="372" y="510.5" width="4" height="5.5" fill="#fff"/>
<rect x="373.5" y="519" width="1" height="4" fill="#fff"/>
<rect x="373.5" y="516" width="1" height="3" fill="#fff"/>
<rect x="378" y="510.5" width="4" height="5.5" fill="#fff"/>
<rect x="379.5" y="519" width="1" height="4" fill="#fff"/>
<rect x="379.5" y="516" width="1" height="3" fill="#fff"/>
<rect x="384" y="510.5" width="4" height="5.5" fill="#fff"/>
<rect x="385.5" y="519" width="1" height="4" fill="#fff"/>
<rect x="390" y="510.5" width="4" height="5.5" fill="#fff"/>
<rect x="391.5" y="519" width="1" height="4" fill="#fff"/>
<rect x="396" y="510.5" width="4" height="5.5" fill="#fff"/>
<rect x="397.5" y="519" width="1" height="4" fill="#fff"/>
<rect x="402" y="510.5" width="4" height="5.5" fill="#fff"/>
<rect x="403.5" y="519" width="1" height="4" fill="#fff"/>
<rect x="408" y="510.5" width="4" height="5.5" fill="#fff"/>
<rect x="409.5" y="519" width="1" height="4" fill="#fff"/>
<rect x="414" y="510.5" width="4" height="5.5" fill="#fff"/>
<rect x="415.5" y="519" width="1" height="4" fill="#fff"/>
<rect x="420" y="510.5" width="4" height="5.5" fill="#fff"/>
<rect x="421.5" y="519" width="1" height="4" fill="#fff"/>
<rect x="421.5" y="516" width="1" height="3" fill="#fff"/>
<rect x="426" y="510.5" width="4" height="5.5" fill="#fff"/>
<rect x="427.5" y="519" width="1" height="4" fill="#fff"/>
<rect x="427.5" y="516" width="1" height="3" fill="#fff"/>
<rect x="432" y="510.5" width="4" height="5.5" fill="#fff"/>
<rect x="433.5" y="519" width="1" height="4" fill="#fff"/>
<rect x="438" y="510.5" width="4" height="5.5" fill="#fff"/>
<rect x="439.5" y="519" width="1" height="4" fill="#fff"/>
<rect x="444" y="510.5" width="4" height="5.5" fill="#fff"/>
<rect x="445.5" y="519" width="1" height="4" fill="#fff"/>
<rect x="450" y="510.5" width="4" height="5.5" fill="#fff"/>
<rect x="451.5" y="519" width="1" height="4" fill="#fff"/>
<rect x="456" y="510.5" width="4" height="5.5" fill="#fff"/>
<rect x="457.5" y="519" width="1" height="4" fill="#fff"/>
<rect x="462" y="510.5" width="4" height="5.5" fill="#fff"/>
<rect x="463.5" y="519" width="1" height="4" fill="#fff"/>
<rect x="468" y="510.5" width="4" height="5.5" fill="#fff"/>
<rect x="469.5" y="519" width="1" height="4" fill="#fff"/>
<rect x="469.5" y="516" width="1" height="3" fill="#fff"/>
<rect x="474" y="510.5" width="4" height="5.5" fill="#fff"/>
<rect x="475.5" y="519" width="1" height="4" fill="#fff"/>
<rect x="475.5" y="516" width="1" height="3" fill="#fff"/>
<rect x="480" y="510.5" width="4" height="5.5" fill="#fff"/>
<rect x="481.5" y="519" width="1" height="4" fill="#fff"/>
<path d="M498 510.5 H488.5 V519.5 H491.5 M491.5 517.5 V525 M491.5 517.5 H495.5 V521 M498 520.5 H495" fill="none" stroke="#000" stroke-width="1"/>
<rect x="498" y="509" width="4" height="16" fill="#000"/>
<line x1="502" y1="512.5" x2="509" y2="512.5" stroke="#000" stroke-width="1"/>
<line x1="502" y1="519.5" x2="509" y2="519.5" stroke="#000" stroke-width="1"/>
<rect x="283.5" y="527.5" width="225" height="18" fill="#fff" stroke="#000" stroke-width="1"/>
<line x1="283" y1="531.5" x2="291" y2="531.5" stroke="#000" stroke-width="1"/>
<line x1="283" y1="538.5" x2="291" y2="538.5" stroke="#000" stroke-width="1"/>
<rect x="291" y="529" width="4" height="16" fill="#000"/>
<path d="M295 530.5 H304.5 V539.5 H301.5 M301.5 537.5 V545 M301.5 537.5 H297.5 V541 M295 540.5 H298" fill="none" stroke="#000" stroke-width="1"/>
<rect x="309" y="529.5" width="175" height="15" fill="#000"/>
<rect x="309" y="529.5" width="1" height="1" fill="#fff"/>
<rect x="483" y="529.5" width="1" height="1" fill="#fff"/>
<rect x="312" y="530.5" width="4" height="5.5" fill="#fff"/>
<rect x="313.5" y="539" width="1" height="4" fill="#fff"/>
<rect x="318" y="530.5" width="4" height="5.5" fill="#fff"/>
<rect x="319.5" y="539" width="1" height="4" fill="#fff"/>
<rect x="324" y="530.5" width="4" height="5.5" fill="#fff"/>
<rect x="325.5" y="539" width="1" height="4" fill="#fff"/>
<rect x="325.5" y="536" width="1" height="3" fill="#fff"/>
<rect x="330" y="530.5" width="4" height="5.5" fill="#fff"/>
<rect x="331.5" y="539" width="1" height="4" fill="#fff"/>
<rect x="331.5" y="536" width="1" height="3" fill="#fff"/>
<rect x="336" y="530.5" width="4" height="5.5" fill="#fff"/>
<rect x="337.5" y="539" width="1" height="4" fill="#fff"/>
<rect x="342" y="530.5" width="4" height="5.5" fill="#fff"/>
<rect x="343.5" y="539" width="1" height="4" fill="#fff"/>
<rect x="348" y="530.5" width="4" height="5.5" fill="#fff"/>
<rect x="349.5" y="539" width="1" height="4" fill="#fff"/>
<rect x="354" y="530.5" width="4" height="5.5" fill="#fff"/>
<rect x="355.5" y="539" width="1" height="4" fill="#fff"/>
<rect x="360" y="530.5" width="4" height="5.5" fill="#fff"/>
<rect x="361.5" y="539" width="1" height="4" fill="#fff"/>
<rect x="366" y="530.5" width="4" height="5.5" fill="#fff"/>
<rect x="367.5" y="539" width="1" height="4" fill="#fff"/>
<rect x="372" y="530.5" width="4" height="5.5" fill="#fff"/>
<rect x="373.5" y="539" width="1" height="4" fill="#fff"/>
<rect x="373.5" y="536" width="1" height="3" fill="#fff"/>
<rect x="378" y="530.5" width="4" height="5.5" fill="#fff"/>
<rect x="379.5" y="539" width="1" height="4" fill="#fff"/>
<rect x="379.5" y="536" width="1" height="3" fill="#fff"/>
<rect x="384" y="530.5" width="4" height="5.5" fill="#fff"/>
<rect x="385.5" y="539" width="1" height="4" fill="#fff"/>
<rect x="390" y="530.5" width="4" height="5.5" fill="#fff"/>
<rect x="391.5" y="539" width="1" height="4" fill="#fff"/>
<rect x="396" y="530.5" width="4" height="5.5" fill="#fff"/>
<rect x="397.5" y="539" width="1" height="4" fill="#fff"/>
<rect x="402" y="530.5" width="4" height="5.5" fill="#fff"/>
<rect x="403.5" y="539" width="1" height="4" fill="#fff"/>
<rect x="408" y="530.5" width="4" height="5.5" fill="#fff"/>
<rect x="409.5" y="539" width="1" height="4" fill="#fff"/>
<rect x="414" y="530.5" width="4" height="5.5" fill="#fff"/>
<rect x="415.5" y="539" width="1" height="4" fill="#fff"/>
<rect x="420" y="530.5" width="4" height="5.5" fill="#fff"/>
<rect x="421.5" y="539" width="1" height="4" fill="#fff"/>
<rect x="421.5" y="536" width="1" height="3" fill="#fff"/>
<rect x="426" y="530.5" width="4" height="5.5" fill="#fff"/>
<rect x="427.5" y="539" width="1" height="4" fill="#fff"/>
<rect x="427.5" y="536" width="1" height="3" fill="#fff"/>
<rect x="432" y="530.5" width="4" height="5.5" fill="#fff"/>
<rect x="433.5" y="539" width="1" height="4" fill="#fff"/>
<rect x="438" y="530.5" width="4" height="5.5" fill="#fff"/>
<rect x="439.5" y="539" width="1" height="4" fill="#fff"/>
<rect x="444" y="530.5" width="4" height="5.5" fill="#fff"/>
<rect x="445.5" y="539" width="1" height="4" fill="#fff"/>
<rect x="450" y="530.5" width="4" height="5.5" fill="#fff"/>
<rect x="451.5" y="539" width="1" height="4" fill="#fff"/>
<rect x="456" y="530.5" width="4" height="5.5" fill="#fff"/>
<rect x="457.5" y="539" width="1" height="4" fill="#fff"/>
<rect x="462" y="530.5" width="4" height="5.5" fill="#fff"/>
<rect x="463.5" y="539" width="1" height="4" fill="#fff"/>
<rect x="468" y="530.5" width="4" height="5.5" fill="#fff"/>
<rect x="469.5" y="539" width="1" height="4" fill="#fff"/>
<rect x="469.5" y="536" width="1" height="3" fill="#fff"/>
<rect x="474" y="530.5" width="4" height="5.5" fill="#fff"/>
<rect x="475.5" y="539" width="1" height="4" fill="#fff"/>
<rect x="475.5" y="536" width="1" height="3" fill="#fff"/>
<rect x="480" y="530.5" width="4" height="5.5" fill="#fff"/>
<rect x="481.5" y="539" width="1" height="4" fill="#fff"/>
<path d="M498 530.5 H488.5 V539.5 H491.5 M491.5 537.5 V545 M491.5 537.5 H495.5 V541 M498 540.5 H495" fill="none" stroke="#000" stroke-width="1"/>
<rect x="498" y="529" width="4" height="16" fill="#000"/>
<line x1="502" y1="532.5" x2="509" y2="532.5" stroke="#000" stroke-width="1"/>
<line x1="502" y1="539.5" x2="509" y2="539.5" stroke="#000" stroke-width="1"/>
<rect x="367" y="421.5" width="58.5" height="15.5" rx="3" fill="#fff" stroke="#000" stroke-width="1" shape-rendering="auto"/>
<text x="396.5" y="434" font-size="12" fill="#000" text-anchor="middle" letter-spacing="0.9">BANK 0</text>
<rect x="367" y="500" width="58.5" height="15.5" rx="3" fill="#fff" stroke="#000" stroke-width="1" shape-rendering="auto"/>
<text x="396.5" y="512.5" font-size="12" fill="#000" text-anchor="middle" letter-spacing="0.9">BANK 1</text>
<rect x="541.5" y="434.5" width="23" height="112" fill="#fff" stroke="#000" stroke-width="1"/>
<line x1="543.5" y1="435" x2="543.5" y2="546" stroke="#000" stroke-width="1"/>
<line x1="557.5" y1="435" x2="557.5" y2="546" stroke="#000" stroke-width="1"/>
<rect x="545" y="434" width="6" height="1" fill="#fff"/>
<rect x="545" y="546" width="6" height="1" fill="#fff"/>
<path d="M544.5 435 V437.5 H546.5 V436 H549.5 V437.5 H551.5 V435" fill="none" stroke="#000" stroke-width="1"/>
<path d="M544.5 546 V543.5 H546.5 V545 H549.5 V543.5 H551.5 V546" fill="none" stroke="#000" stroke-width="1"/>
<rect x="553" y="436" width="2" height="7.2" fill="#000"/>
<rect x="560" y="436.5" width="2" height="6.2" fill="#fff" stroke="#000" stroke-width="1"/>
<rect x="558" y="442.7" width="2.5" height="3.2" fill="#000"/>
<rect x="544.5" y="440.5" width="7" height="6.6" fill="#fff" stroke="#000" stroke-width="1"/>
<rect x="553" y="445.4" width="2" height="7.2" fill="#000"/>
<rect x="560" y="445.9" width="2" height="6.2" fill="#fff" stroke="#000" stroke-width="1"/>
<rect x="558" y="452.1" width="2.5" height="3.2" fill="#000"/>
<rect x="544.5" y="449.9" width="7" height="6.6" fill="#fff" stroke="#000" stroke-width="1"/>
<rect x="553" y="454.8" width="2" height="7.2" fill="#000"/>
<rect x="560" y="455.3" width="2" height="6.2" fill="#fff" stroke="#000" stroke-width="1"/>
<rect x="558" y="461.5" width="2.5" height="3.2" fill="#000"/>
<rect x="544.5" y="459.3" width="7" height="6.6" fill="#fff" stroke="#000" stroke-width="1"/>
<rect x="553" y="464.2" width="2" height="7.2" fill="#000"/>
<rect x="560" y="464.7" width="2" height="6.2" fill="#fff" stroke="#000" stroke-width="1"/>
<rect x="558" y="470.9" width="2.5" height="3.2" fill="#000"/>
<rect x="544.5" y="468.7" width="7" height="6.6" fill="#fff" stroke="#000" stroke-width="1"/>
<rect x="553" y="473.6" width="2" height="7.2" fill="#000"/>
<rect x="560" y="474.1" width="2" height="6.2" fill="#fff" stroke="#000" stroke-width="1"/>
<rect x="558" y="480.3" width="2.5" height="3.2" fill="#000"/>
<rect x="544.5" y="478.1" width="7" height="6.6" fill="#fff" stroke="#000" stroke-width="1"/>
<rect x="553" y="483" width="2" height="7.2" fill="#000"/>
<rect x="560" y="483.5" width="2" height="6.2" fill="#fff" stroke="#000" stroke-width="1"/>
<rect x="558" y="489.7" width="2.5" height="3.2" fill="#000"/>
<rect x="544.5" y="487.5" width="7" height="6.6" fill="#fff" stroke="#000" stroke-width="1"/>
<rect x="553" y="492.4" width="2" height="7.2" fill="#000"/>
<rect x="560" y="492.9" width="2" height="6.2" fill="#fff" stroke="#000" stroke-width="1"/>
<rect x="558" y="499.1" width="2.5" height="3.2" fill="#000"/>
<rect x="544.5" y="496.9" width="7" height="6.6" fill="#fff" stroke="#000" stroke-width="1"/>
<rect x="553" y="501.8" width="2" height="7.2" fill="#000"/>
<rect x="560" y="502.3" width="2" height="6.2" fill="#fff" stroke="#000" stroke-width="1"/>
<rect x="558" y="508.5" width="2.5" height="3.2" fill="#000"/>
<rect x="544.5" y="506.3" width="7" height="6.6" fill="#fff" stroke="#000" stroke-width="1"/>
<rect x="553" y="511.2" width="2" height="7.2" fill="#000"/>
<rect x="560" y="511.7" width="2" height="6.2" fill="#fff" stroke="#000" stroke-width="1"/>
<rect x="558" y="517.9" width="2.5" height="3.2" fill="#000"/>
<rect x="544.5" y="515.7" width="7" height="6.6" fill="#fff" stroke="#000" stroke-width="1"/>
<rect x="553" y="520.6" width="2" height="7.2" fill="#000"/>
<rect x="560" y="521.1" width="2" height="6.2" fill="#fff" stroke="#000" stroke-width="1"/>
<rect x="558" y="527.3" width="2.5" height="3.2" fill="#000"/>
<rect x="544.5" y="525.1" width="7" height="6.6" fill="#fff" stroke="#000" stroke-width="1"/>
<rect x="553" y="530" width="2" height="7.2" fill="#000"/>
<rect x="560" y="530.5" width="2" height="6.2" fill="#fff" stroke="#000" stroke-width="1"/>
<rect x="558" y="536.7" width="2.5" height="3.2" fill="#000"/>
<rect x="544.5" y="534.5" width="7" height="6.6" fill="#fff" stroke="#000" stroke-width="1"/>
<rect x="553" y="539.4" width="2" height="5.6" fill="#000"/>
<rect x="560" y="539.9" width="2" height="4.6" fill="#fff" stroke="#000" stroke-width="1"/>
<rect x="634.5" y="477.5" width="3" height="24" fill="#fff" stroke="#000" stroke-width="1"/>
<rect x="635" y="480" width="2" height="7" fill="#aaa"/>
<rect x="635" y="492" width="2" height="7" fill="#aaa"/>
<rect x="635" y="488" width="1" height="3" fill="#000"/>
<rect x="637" y="471" width="31" height="37" fill="#000"/>
<rect x="661" y="466" width="7" height="46" fill="#000"/>
<rect x="664" y="464" width="4" height="51" fill="#000"/>
<rect x="630.5" y="479.5" width="4" height="7.5" fill="#fff" stroke="#000" stroke-width="1"/>
<rect x="630.5" y="491.5" width="4" height="8" fill="#fff" stroke="#000" stroke-width="1"/>
<rect x="56" y="40" width="14" height="7" fill="#000"/>
<rect x="57" y="41" width="1" height="5" fill="#fff"/>
<rect x="62" y="41" width="1" height="5" fill="#fff"/>
<rect x="68" y="41" width="1" height="5" fill="#fff"/>
<rect x="56" y="47" width="7" height="31" fill="#000"/>
<rect x="57" y="48" width="1" height="29" fill="#fff"/>
<rect x="57" y="48" width="5" height="1" fill="#fff"/>
<rect x="57" y="54" width="5" height="1" fill="#fff"/>
<rect x="57" y="60" width="5" height="1" fill="#fff"/>
<rect x="57" y="65" width="5" height="1" fill="#fff"/>
<rect x="57" y="72" width="5" height="1" fill="#fff"/>
<rect x="59" y="50" width="2" height="2" fill="#fff"/>
<rect x="57" y="84" width="7" height="14" fill="#000"/>
<rect x="62" y="85" width="1" height="12" fill="#fff"/>
<rect x="58" y="85" width="5" height="1" fill="#fff"/>
<rect x="58" y="90" width="5" height="1" fill="#fff"/>
<rect x="58" y="96" width="5" height="1" fill="#fff"/>
<rect x="57" y="103" width="7" height="13" fill="#000"/>
<rect x="62" y="104" width="1" height="11" fill="#fff"/>
<rect x="58" y="104" width="5" height="1" fill="#fff"/>
<rect x="58" y="109" width="5" height="1" fill="#fff"/>
<rect x="58" y="114" width="5" height="1" fill="#fff"/>
<rect x="80" y="73" width="6" height="19" fill="#000"/>
<rect x="81" y="74" width="4" height="1" fill="#fff"/>
<rect x="82" y="76" width="2" height="3" fill="#fff"/>
<rect x="81" y="80" width="4" height="1" fill="#fff"/>
<rect x="81" y="85" width="4" height="2" fill="#fff"/>
<rect x="90" y="74" width="7" height="19" fill="#000"/>
<rect x="92" y="76" width="3" height="3" fill="#fff"/>
<rect x="91" y="80" width="5" height="1" fill="#fff"/>
<rect x="91" y="86" width="5" height="1" fill="#fff"/>
<rect x="91" y="91" width="5" height="1" fill="#fff"/>
<rect x="100" y="73" width="7" height="19" fill="#000"/>
<rect x="101" y="74" width="5" height="1" fill="#fff"/>
<rect x="102" y="76" width="3" height="3" fill="#fff"/>
<rect x="101" y="80" width="5" height="1" fill="#fff"/>
<rect x="101" y="85" width="5" height="2" fill="#fff"/>
<rect x="92" y="129" width="6" height="14" fill="#000"/>
<rect x="93" y="130" width="4" height="1" fill="#fff"/>
<rect x="93" y="136" width="4" height="1" fill="#fff"/>
<rect x="93" y="141" width="4" height="1" fill="#fff"/>
<rect x="92" y="147" width="7" height="20" fill="#000"/>
<rect x="93" y="148" width="5" height="1" fill="#fff"/>
<rect x="94" y="150" width="3" height="3" fill="#fff"/>
<rect x="93" y="154" width="5" height="1" fill="#fff"/>
<rect x="93" y="159" width="5" height="2" fill="#fff"/>
<rect x="93" y="165" width="5" height="1" fill="#fff"/>
<rect x="47" y="173" width="7" height="14" fill="#000"/>
<rect x="48" y="174" width="1" height="12" fill="#fff"/>
<rect x="48" y="174" width="5" height="1" fill="#fff"/>
<rect x="48" y="180" width="5" height="1" fill="#fff"/>
<rect x="48" y="185" width="5" height="1" fill="#fff"/>
<rect x="51" y="245" width="7" height="25" fill="#000"/>
<rect x="52" y="246" width="1" height="23" fill="#fff"/>
<rect x="52" y="246" width="5" height="1" fill="#fff"/>
<rect x="52" y="252" width="5" height="1" fill="#fff"/>
<rect x="52" y="257" width="5" height="1" fill="#fff"/>
<rect x="52" y="262" width="5" height="1" fill="#fff"/>
<rect x="52" y="268" width="5" height="1" fill="#fff"/>
<rect x="54" y="248" width="2" height="2" fill="#fff"/>
<rect x="174" y="175" width="7" height="19" fill="#000"/>
<rect x="175" y="176" width="5" height="1" fill="#fff"/>
<rect x="176" y="178" width="3" height="2.5" fill="#fff"/>
<rect x="175" y="181" width="5" height="1" fill="#fff"/>
<rect x="175" y="187" width="5" height="1" fill="#fff"/>
<rect x="175" y="265" width="7" height="19" fill="#000"/>
<rect x="176" y="266" width="5" height="1" fill="#fff"/>
<rect x="177" y="268" width="3" height="2.5" fill="#fff"/>
<rect x="176" y="271" width="5" height="1" fill="#fff"/>
<rect x="176" y="277" width="5" height="1" fill="#fff"/>
<rect x="277" y="256" width="19" height="6" fill="#000"/>
<rect x="278" y="257" width="1" height="4" fill="#fff"/>
<rect x="280" y="258" width="2.5" height="2" fill="#fff"/>
<rect x="284" y="257" width="1" height="4" fill="#fff"/>
<rect x="287" y="257" width="1" height="4" fill="#fff"/>
<rect x="293" y="257" width="1" height="4" fill="#fff"/>
<rect x="586" y="265" width="26" height="6" fill="#000"/>
<rect x="587" y="266" width="1" height="4" fill="#fff"/>
<rect x="589" y="267" width="2.5" height="2" fill="#fff"/>
<rect x="593" y="266" width="1" height="4" fill="#fff"/>
<rect x="596" y="266" width="1" height="4" fill="#fff"/>
<rect x="603" y="266" width="1" height="4" fill="#fff"/>
<rect x="609" y="266" width="1" height="4" fill="#fff"/>
<rect x="187" y="333" width="19" height="7" fill="#000"/>
<rect x="188" y="334" width="1" height="5" fill="#fff"/>
<rect x="190" y="335" width="2.5" height="3" fill="#fff"/>
<rect x="194" y="334" width="1" height="5" fill="#fff"/>
<rect x="200" y="334" width="1" height="5" fill="#fff"/>
<rect x="188" y="334" width="17" height="1" fill="#fff"/>
<rect x="187" y="343" width="19" height="7" fill="#000"/>
<rect x="188" y="344" width="1" height="5" fill="#fff"/>
<rect x="190" y="345" width="2.5" height="3" fill="#fff"/>
<rect x="194" y="344" width="1" height="5" fill="#fff"/>
<rect x="200" y="344" width="1" height="5" fill="#fff"/>
<rect x="187" y="352" width="19" height="7" fill="#000"/>
<rect x="188" y="353" width="1" height="5" fill="#fff"/>
<rect x="190" y="354" width="2.5" height="3" fill="#fff"/>
<rect x="194" y="353" width="1" height="5" fill="#fff"/>
<rect x="200" y="353" width="1" height="5" fill="#fff"/>
<rect x="188" y="353" width="17" height="1" fill="#fff"/>
<rect x="187" y="362" width="19" height="6" fill="#000"/>
<rect x="188" y="363" width="1" height="4" fill="#fff"/>
<rect x="190" y="364" width="2.5" height="2" fill="#fff"/>
<rect x="194" y="363" width="1" height="4" fill="#fff"/>
<rect x="200" y="363" width="1" height="4" fill="#fff"/>
<rect x="160" y="407" width="20" height="7" fill="#000"/>
<rect x="161" y="408" width="1" height="5" fill="#fff"/>
<rect x="163" y="409" width="2.5" height="3" fill="#fff"/>
<rect x="167" y="408" width="1" height="5" fill="#fff"/>
<rect x="170" y="408" width="2.5" height="5" fill="#fff"/>
<rect x="176" y="408" width="2.5" height="5" fill="#fff"/>
<rect x="160" y="415" width="20" height="6" fill="#000"/>
<rect x="161" y="416" width="1" height="4" fill="#fff"/>
<rect x="163" y="417" width="2.5" height="2" fill="#fff"/>
<rect x="167" y="416" width="1" height="4" fill="#fff"/>
<rect x="170" y="416" width="2.5" height="4" fill="#fff"/>
<rect x="176" y="416" width="2.5" height="4" fill="#fff"/>
<rect x="160" y="423" width="20" height="6" fill="#000"/>
<rect x="161" y="424" width="1" height="4" fill="#fff"/>
<rect x="163" y="425" width="2.5" height="2" fill="#fff"/>
<rect x="167" y="424" width="1" height="4" fill="#fff"/>
<rect x="170" y="424" width="2.5" height="4" fill="#fff"/>
<rect x="176" y="424" width="2.5" height="4" fill="#fff"/>
<rect x="241" y="396" width="6" height="26" fill="#000"/>
<rect x="242" y="397" width="4" height="1" fill="#fff"/>
<rect x="243" y="399" width="2" height="3" fill="#fff"/>
<rect x="242" y="403" width="4" height="1" fill="#fff"/>
<rect x="242" y="408" width="4" height="2" fill="#fff"/>
<rect x="242" y="414" width="4" height="2" fill="#fff"/>
<rect x="242" y="420" width="4" height="1" fill="#fff"/>
<rect x="240" y="521" width="7" height="19" fill="#000"/>
<rect x="241" y="522" width="5" height="1" fill="#fff"/>
<rect x="242" y="524" width="3" height="2" fill="#fff"/>
<rect x="241" y="527" width="5" height="2" fill="#fff"/>
<rect x="241" y="533" width="5" height="2" fill="#fff"/>
<rect x="250" y="521" width="7" height="19" fill="#000"/>
<rect x="255" y="522" width="1" height="17" fill="#fff"/>
<rect x="251" y="522" width="5" height="1" fill="#fff"/>
<rect x="252" y="524" width="2" height="2" fill="#fff"/>
<rect x="251" y="527" width="5" height="1" fill="#fff"/>
<rect x="251" y="533" width="5" height="1" fill="#fff"/>
<rect x="543" y="388" width="25" height="7" fill="#000"/>
<rect x="544" y="389" width="1" height="5" fill="#fff"/>
<rect x="546" y="390" width="2.5" height="3" fill="#fff"/>
<rect x="550" y="389" width="1" height="5" fill="#fff"/>
<rect x="552" y="389" width="2.5" height="5" fill="#fff"/>
<rect x="558" y="389" width="2.5" height="5" fill="#fff"/>
<rect x="564" y="389" width="2.5" height="5" fill="#fff"/>
<rect x="543" y="398" width="19" height="6" fill="#000"/>
<rect x="544" y="399" width="1" height="4" fill="#fff"/>
<rect x="546" y="400" width="2.5" height="2" fill="#fff"/>
<rect x="550" y="399" width="1" height="4" fill="#fff"/>
<rect x="556" y="399" width="1" height="4" fill="#fff"/>
<rect x="544" y="399" width="17" height="1" fill="#fff"/>
<rect x="543" y="407" width="19" height="6" fill="#000"/>
<rect x="544" y="408" width="1" height="4" fill="#fff"/>
<rect x="546" y="409" width="2.5" height="2" fill="#fff"/>
<rect x="550" y="408" width="1" height="4" fill="#fff"/>
<rect x="556" y="408" width="1" height="4" fill="#fff"/>
<rect x="544" y="408" width="17" height="1" fill="#fff"/>
<rect x="543" y="415" width="19" height="7" fill="#000"/>
<rect x="544" y="416" width="1" height="5" fill="#fff"/>
<rect x="546" y="417" width="2.5" height="3" fill="#fff"/>
<rect x="550" y="416" width="1" height="5" fill="#fff"/>
<rect x="556" y="416" width="1" height="5" fill="#fff"/>
<rect x="543" y="425" width="19" height="6" fill="#000"/>
<rect x="544" y="426" width="1" height="4" fill="#fff"/>
<rect x="546" y="427" width="2.5" height="2" fill="#fff"/>
<rect x="550" y="426" width="1" height="4" fill="#fff"/>
<rect x="556" y="426" width="1" height="4" fill="#fff"/>
<rect x="544" y="426" width="17" height="1" fill="#fff"/>
<polygon points="51.96,29.44 56.13,31.96 61.69,38.11 56.13,31.96 54.04,27.56" fill="#fff" stroke="#000" stroke-width="3.2" stroke-linejoin="round" shape-rendering="auto"/>
<rect x="24" y="15.7" width="30.2" height="14.7" rx="3" fill="#000" stroke="#000" stroke-width="2" shape-rendering="auto"/>
<rect x="23.2" y="14.9" width="30.2" height="14.7" rx="3" fill="#fff" stroke="#000" stroke-width="2" shape-rendering="auto"/>
<polygon points="51.96,29.44 56.13,31.96 54.04,27.56" fill="#fff" shape-rendering="auto"/>
<text x="38.35" y="26.6" font-size="12.5" fill="#000" text-anchor="middle" letter-spacing="0.3">J31</text>
<line x1="54" y1="29.5" x2="58.5" y2="34.2" stroke="#fff" stroke-width="1.3" shape-rendering="auto"/>
<polygon points="44.58,55.05 48.97,57.04 55.1,62.41 48.97,57.04 46.42,52.95" fill="#fff" stroke="#000" stroke-width="3.2" stroke-linejoin="round" shape-rendering="auto"/>
<rect x="17.3" y="40.4" width="30.2" height="15.1" rx="3" fill="#000" stroke="#000" stroke-width="2" shape-rendering="auto"/>
<rect x="16.5" y="39.6" width="30.2" height="15.1" rx="3" fill="#fff" stroke="#000" stroke-width="2" shape-rendering="auto"/>
<polygon points="44.58,55.05 48.97,57.04 46.42,52.95" fill="#fff" shape-rendering="auto"/>
<text x="31.65" y="51.3" font-size="12.5" fill="#000" text-anchor="middle" letter-spacing="0.3">J30</text>
<polygon points="44.55,82.53 48.8,84.57 54.62,89.98 48.8,84.57 46.45,80.47" fill="#fff" stroke="#000" stroke-width="3.2" stroke-linejoin="round" shape-rendering="auto"/>
<rect x="16" y="68.3" width="31.5" height="14.8" rx="3" fill="#000" stroke="#000" stroke-width="2" shape-rendering="auto"/>
<rect x="15.2" y="67.5" width="31.5" height="14.8" rx="3" fill="#fff" stroke="#000" stroke-width="2" shape-rendering="auto"/>
<polygon points="44.55,82.53 48.8,84.57 46.45,80.47" fill="#fff" shape-rendering="auto"/>
<text x="31" y="79.2" font-size="12.5" fill="#000" text-anchor="middle" letter-spacing="0.3">J28</text>
<polygon points="46.39,120.58 48.97,116.66 55.07,111.66 48.97,116.66 44.61,118.42" fill="#fff" stroke="#000" stroke-width="3.2" stroke-linejoin="round" shape-rendering="auto"/>
<rect x="17.3" y="119.4" width="30.2" height="14.7" rx="3" fill="#000" stroke="#000" stroke-width="2" shape-rendering="auto"/>
<rect x="16.5" y="118.6" width="30.2" height="14.7" rx="3" fill="#fff" stroke="#000" stroke-width="2" shape-rendering="auto"/>
<polygon points="46.39,120.58 48.97,116.66 44.61,118.42" fill="#fff" shape-rendering="auto"/>
<text x="31.65" y="130.3" font-size="12.5" fill="#000" text-anchor="middle" letter-spacing="0.3">J26</text>
<polygon points="100.97,62.05 99.13,66.1 94.12,71.52 99.13,66.1 103.03,63.95" fill="#fff" stroke="#000" stroke-width="3.2" stroke-linejoin="round" shape-rendering="auto"/>
<rect x="101.2" y="48.9" width="31.7" height="15.8" rx="3" fill="#000" stroke="#000" stroke-width="2" shape-rendering="auto"/>
<rect x="100.4" y="48.1" width="31.7" height="15.8" rx="3" fill="#fff" stroke="#000" stroke-width="2" shape-rendering="auto"/>
<polygon points="100.97,62.05 99.13,66.1 103.03,63.95" fill="#fff" shape-rendering="auto"/>
<text x="116.3" y="59.8" font-size="12.5" fill="#000" text-anchor="middle" letter-spacing="0.3">J23</text>
<polygon points="125,81.8 119.46,83.2 109.4,83.2 119.46,83.2 125,84.6" fill="#fff" stroke="#000" stroke-width="3.2" stroke-linejoin="round" shape-rendering="auto"/>
<rect x="124.5" y="76" width="33.3" height="15.1" rx="3" fill="#000" stroke="#000" stroke-width="2" shape-rendering="auto"/>
<rect x="123.7" y="75.2" width="33.3" height="15.1" rx="3" fill="#fff" stroke="#000" stroke-width="2" shape-rendering="auto"/>
<polygon points="125,81.8 119.46,83.2 125,84.6" fill="#fff" shape-rendering="auto"/>
<text x="140.4" y="86.9" font-size="12.5" fill="#000" text-anchor="middle" letter-spacing="0.3">J22</text>
<polygon points="91.96,103.48 88.03,101.69 82.87,96.82 88.03,101.69 90.04,105.52" fill="#fff" stroke="#000" stroke-width="3.2" stroke-linejoin="round" shape-rendering="auto"/>
<rect x="89.8" y="103.9" width="31.9" height="15.7" rx="3" fill="#000" stroke="#000" stroke-width="2" shape-rendering="auto"/>
<rect x="89" y="103.1" width="31.9" height="15.7" rx="3" fill="#fff" stroke="#000" stroke-width="2" shape-rendering="auto"/>
<polygon points="91.96,103.48 88.03,101.69 90.04,105.52" fill="#fff" shape-rendering="auto"/>
<text x="105" y="114.8" font-size="12.5" fill="#000" text-anchor="middle" letter-spacing="0.3">J24</text>
<polygon points="109.47,143.99 105.6,142.19 100.56,137.33 105.6,142.19 107.53,146.01" fill="#fff" stroke="#000" stroke-width="3.2" stroke-linejoin="round" shape-rendering="auto"/>
<rect x="107.5" y="144.3" width="32.5" height="15.5" rx="3" fill="#000" stroke="#000" stroke-width="2" shape-rendering="auto"/>
<rect x="106.7" y="143.5" width="32.5" height="15.5" rx="3" fill="#fff" stroke="#000" stroke-width="2" shape-rendering="auto"/>
<polygon points="109.47,143.99 105.6,142.19 107.53,146.01" fill="#fff" shape-rendering="auto"/>
<text x="123" y="155.2" font-size="12.5" fill="#000" text-anchor="middle" letter-spacing="0.3">J21</text>
<polygon points="72.98,158 79.04,156.7 90.1,156.88 79.04,156.7 73.02,155.2" fill="#fff" stroke="#000" stroke-width="3.2" stroke-linejoin="round" shape-rendering="auto"/>
<rect x="42.4" y="149.5" width="31.9" height="14.4" rx="3" fill="#000" stroke="#000" stroke-width="2" shape-rendering="auto"/>
<rect x="41.6" y="148.7" width="31.9" height="14.4" rx="3" fill="#fff" stroke="#000" stroke-width="2" shape-rendering="auto"/>
<polygon points="72.98,158 79.04,156.7 73.02,155.2" fill="#fff" shape-rendering="auto"/>
<text x="57.6" y="160.4" font-size="12.5" fill="#000" text-anchor="middle" letter-spacing="0.3">J20</text>
<polygon points="33.61,169.58 38.23,171.57 44.87,177.04 38.23,171.57 35.39,167.42" fill="#fff" stroke="#000" stroke-width="3.2" stroke-linejoin="round" shape-rendering="auto"/>
<rect x="6.5" y="155.3" width="30.1" height="14.8" rx="3" fill="#000" stroke="#000" stroke-width="2" shape-rendering="auto"/>
<rect x="5.7" y="154.5" width="30.1" height="14.8" rx="3" fill="#fff" stroke="#000" stroke-width="2" shape-rendering="auto"/>
<polygon points="33.61,169.58 38.23,171.57 35.39,167.42" fill="#fff" shape-rendering="auto"/>
<text x="20.8" y="166.2" font-size="12.5" fill="#000" text-anchor="middle" letter-spacing="0.3">J25</text>
<polygon points="41,249.98 45.04,252.1 50.36,257.54 45.04,252.1 43,248.02" fill="#fff" stroke="#000" stroke-width="3.2" stroke-linejoin="round" shape-rendering="auto"/>
<rect x="11.8" y="233.9" width="32.2" height="16.8" rx="3" fill="#000" stroke="#000" stroke-width="2" shape-rendering="auto"/>
<rect x="11" y="233.1" width="32.2" height="16.8" rx="3" fill="#fff" stroke="#000" stroke-width="2" shape-rendering="auto"/>
<polygon points="41,249.98 45.04,252.1 43,248.02" fill="#fff" shape-rendering="auto"/>
<text x="28.25" y="245.6" font-size="12.5" fill="#000" text-anchor="middle" letter-spacing="0.3">J29</text>
<polygon points="199.52,183.2 193.72,184.53 183.2,184.41 193.72,184.53 199.48,186" fill="#fff" stroke="#000" stroke-width="3.2" stroke-linejoin="round" shape-rendering="auto"/>
<rect x="198.8" y="176.8" width="32.7" height="16.2" rx="3" fill="#000" stroke="#000" stroke-width="2" shape-rendering="auto"/>
<rect x="198" y="176" width="32.7" height="16.2" rx="3" fill="#fff" stroke="#000" stroke-width="2" shape-rendering="auto"/>
<polygon points="199.52,183.2 193.72,184.53 199.48,186" fill="#fff" shape-rendering="auto"/>
<text x="214.4" y="187.7" font-size="12.5" fill="#000" text-anchor="middle" letter-spacing="0.3">J16</text>
<polygon points="201,274 194.9,275.4 183.7,275.4 194.9,275.4 201,276.8" fill="#fff" stroke="#000" stroke-width="3.2" stroke-linejoin="round" shape-rendering="auto"/>
<rect x="200.3" y="267.8" width="32.7" height="15.7" rx="3" fill="#000" stroke="#000" stroke-width="2" shape-rendering="auto"/>
<rect x="199.5" y="267" width="32.7" height="15.7" rx="3" fill="#fff" stroke="#000" stroke-width="2" shape-rendering="auto"/>
<polygon points="201,274 194.9,275.4 201,276.8" fill="#fff" shape-rendering="auto"/>
<text x="214.7" y="278.7" font-size="12.5" fill="#000" text-anchor="middle" letter-spacing="0.3">J15</text>
<polygon points="278.99,273.99 281.13,269.87 286.65,264.35 281.13,269.87 277.01,272.01" fill="#fff" stroke="#000" stroke-width="3.2" stroke-linejoin="round" shape-rendering="auto"/>
<rect x="248.8" y="272.2" width="31.5" height="15.3" rx="3" fill="#000" stroke="#000" stroke-width="2" shape-rendering="auto"/>
<rect x="248" y="271.4" width="31.5" height="15.3" rx="3" fill="#fff" stroke="#000" stroke-width="2" shape-rendering="auto"/>
<polygon points="278.99,273.99 281.13,269.87 277.01,272.01" fill="#fff" shape-rendering="auto"/>
<text x="263.8" y="283.1" font-size="12.5" fill="#000" text-anchor="middle" letter-spacing="0.3">J10</text>
<polygon points="607.02,253 604.83,257.13 599.25,262.66 604.83,257.13 608.98,255" fill="#fff" stroke="#000" stroke-width="3.2" stroke-linejoin="round" shape-rendering="auto"/>
<rect x="607.1" y="239.6" width="22.8" height="16.2" rx="3" fill="#000" stroke="#000" stroke-width="2" shape-rendering="auto"/>
<rect x="606.3" y="238.8" width="22.8" height="16.2" rx="3" fill="#fff" stroke="#000" stroke-width="2" shape-rendering="auto"/>
<polygon points="607.02,253 604.83,257.13 608.98,255" fill="#fff" shape-rendering="auto"/>
<text x="617.05" y="250.5" font-size="12.5" fill="#000" text-anchor="middle" letter-spacing="0.3">J1</text>
<polygon points="195.6,313 197,319.27 197,330.8 197,319.27 198.4,313" fill="#fff" stroke="#000" stroke-width="3.2" stroke-linejoin="round" shape-rendering="auto"/>
<rect x="183.3" y="299.3" width="30.1" height="15.1" rx="3" fill="#000" stroke="#000" stroke-width="2" shape-rendering="auto"/>
<rect x="182.5" y="298.5" width="30.1" height="15.1" rx="3" fill="#fff" stroke="#000" stroke-width="2" shape-rendering="auto"/>
<polygon points="195.6,313 197,319.27 198.4,313" fill="#fff" shape-rendering="auto"/>
<text x="197.6" y="310.2" font-size="12.5" fill="#000" text-anchor="middle" letter-spacing="0.3">J14</text>
<polygon points="175.5,337.98 179.37,339.9 184.36,344.95 179.37,339.9 177.5,336.02" fill="#fff" stroke="#000" stroke-width="3.2" stroke-linejoin="round" shape-rendering="auto"/>
<rect x="146.8" y="322.8" width="31.5" height="16.2" rx="3" fill="#000" stroke="#000" stroke-width="2" shape-rendering="auto"/>
<rect x="146" y="322" width="31.5" height="16.2" rx="3" fill="#fff" stroke="#000" stroke-width="2" shape-rendering="auto"/>
<polygon points="175.5,337.98 179.37,339.9 177.5,336.02" fill="#fff" shape-rendering="auto"/>
<text x="161.8" y="333.7" font-size="12.5" fill="#000" text-anchor="middle" letter-spacing="0.3">J13</text>
<polygon points="216.04,346.48 213.87,350.47 208.37,355.67 213.87,350.47 217.96,348.52" fill="#fff" stroke="#000" stroke-width="3.2" stroke-linejoin="round" shape-rendering="auto"/>
<rect x="215.8" y="333.8" width="31.2" height="15.7" rx="3" fill="#000" stroke="#000" stroke-width="2" shape-rendering="auto"/>
<rect x="215" y="333" width="31.2" height="15.7" rx="3" fill="#fff" stroke="#000" stroke-width="2" shape-rendering="auto"/>
<polygon points="216.04,346.48 213.87,350.47 217.96,348.52" fill="#fff" shape-rendering="auto"/>
<text x="232.45" y="344.7" font-size="12.5" fill="#000" text-anchor="middle" letter-spacing="0.3">J12</text>
<polygon points="225.5,363.4 219.56,364.8 208.7,364.8 219.56,364.8 225.5,366.2" fill="#fff" stroke="#000" stroke-width="3.2" stroke-linejoin="round" shape-rendering="auto"/>
<rect x="224.8" y="356.8" width="32.7" height="16.2" rx="3" fill="#000" stroke="#000" stroke-width="2" shape-rendering="auto"/>
<rect x="224" y="356" width="32.7" height="16.2" rx="3" fill="#fff" stroke="#000" stroke-width="2" shape-rendering="auto"/>
<polygon points="225.5,363.4 219.56,364.8 225.5,366.2" fill="#fff" shape-rendering="auto"/>
<text x="239.4" y="368.5" font-size="12.5" fill="#000" text-anchor="middle" letter-spacing="0.3">J11</text>
<polygon points="177.98,396.54 176.16,400.5 171.22,405.73 176.16,400.5 180.02,398.46" fill="#fff" stroke="#000" stroke-width="3.2" stroke-linejoin="round" shape-rendering="auto"/>
<rect x="178.3" y="383.1" width="31.6" height="15.4" rx="3" fill="#000" stroke="#000" stroke-width="2" shape-rendering="auto"/>
<rect x="177.5" y="382.3" width="31.6" height="15.4" rx="3" fill="#fff" stroke="#000" stroke-width="2" shape-rendering="auto"/>
<polygon points="177.98,396.54 176.16,400.5 180.02,398.46" fill="#fff" shape-rendering="auto"/>
<text x="193.35" y="394" font-size="12.5" fill="#000" text-anchor="middle" letter-spacing="0.3">J19</text>
<polygon points="149.98,409.96 154.1,412.3 159.58,418.13 154.1,412.3 152.02,408.04" fill="#fff" stroke="#000" stroke-width="3.2" stroke-linejoin="round" shape-rendering="auto"/>
<rect x="122.5" y="396.5" width="30" height="13.8" rx="3" fill="#000" stroke="#000" stroke-width="2" shape-rendering="auto"/>
<rect x="121.7" y="395.7" width="30" height="13.8" rx="3" fill="#fff" stroke="#000" stroke-width="2" shape-rendering="auto"/>
<polygon points="149.98,409.96 154.1,412.3 152.02,408.04" fill="#fff" shape-rendering="auto"/>
<text x="136.75" y="407.4" font-size="12.5" fill="#000" text-anchor="middle" letter-spacing="0.3">J18</text>
<polygon points="197,424.6 191.46,426 181.4,426 191.46,426 197,427.4" fill="#fff" stroke="#000" stroke-width="3.2" stroke-linejoin="round" shape-rendering="auto"/>
<rect x="196.1" y="419.2" width="32.8" height="15" rx="3" fill="#000" stroke="#000" stroke-width="2" shape-rendering="auto"/>
<rect x="195.3" y="418.4" width="32.8" height="15" rx="3" fill="#fff" stroke="#000" stroke-width="2" shape-rendering="auto"/>
<polygon points="197,424.6 191.46,426 197,427.4" fill="#fff" shape-rendering="auto"/>
<text x="211.75" y="430.1" font-size="12.5" fill="#000" text-anchor="middle" letter-spacing="0.3">J17</text>
<polygon points="258.04,399.48 255.87,403.47 250.37,408.67 255.87,403.47 259.96,401.52" fill="#fff" stroke="#000" stroke-width="3.2" stroke-linejoin="round" shape-rendering="auto"/>
<rect x="257.9" y="385.8" width="21.8" height="15.9" rx="3" fill="#000" stroke="#000" stroke-width="2" shape-rendering="auto"/>
<rect x="257.1" y="385" width="21.8" height="15.9" rx="3" fill="#fff" stroke="#000" stroke-width="2" shape-rendering="auto"/>
<polygon points="258.04,399.48 255.87,403.47 259.96,401.52" fill="#fff" shape-rendering="auto"/>
<text x="267.35" y="396.7" font-size="12.5" fill="#000" text-anchor="middle" letter-spacing="0.3">J9</text>
<polygon points="233.45,511.92 237.24,514.13 242.01,519.6 237.24,514.13 235.55,510.08" fill="#fff" stroke="#000" stroke-width="3.2" stroke-linejoin="round" shape-rendering="auto"/>
<rect x="215.2" y="496.9" width="21" height="15.5" rx="3" fill="#000" stroke="#000" stroke-width="2" shape-rendering="auto"/>
<rect x="214.4" y="496.1" width="21" height="15.5" rx="3" fill="#fff" stroke="#000" stroke-width="2" shape-rendering="auto"/>
<polygon points="233.45,511.92 237.24,514.13 235.55,510.08" fill="#fff" shape-rendering="auto"/>
<text x="224.25" y="507.8" font-size="12.5" fill="#000" text-anchor="middle" letter-spacing="0.3">J8</text>
<polygon points="260.49,510.03 258.5,514.13 253.23,519.63 258.5,514.13 262.51,511.97" fill="#fff" stroke="#000" stroke-width="3.2" stroke-linejoin="round" shape-rendering="auto"/>
<rect x="260.9" y="496.9" width="21.2" height="15.5" rx="3" fill="#000" stroke="#000" stroke-width="2" shape-rendering="auto"/>
<rect x="260.1" y="496.1" width="21.2" height="15.5" rx="3" fill="#fff" stroke="#000" stroke-width="2" shape-rendering="auto"/>
<polygon points="260.49,510.03 258.5,514.13 262.51,511.97" fill="#fff" shape-rendering="auto"/>
<text x="270.05" y="507.8" font-size="12.5" fill="#000" text-anchor="middle" letter-spacing="0.3">J7</text>
<polygon points="573.55,391.97 571.4,395.84 565.99,400.79 571.4,395.84 575.45,394.03" fill="#fff" stroke="#000" stroke-width="3.2" stroke-linejoin="round" shape-rendering="auto"/>
<rect x="573.6" y="379.3" width="21.2" height="15.1" rx="3" fill="#000" stroke="#000" stroke-width="2" shape-rendering="auto"/>
<rect x="572.8" y="378.5" width="21.2" height="15.1" rx="3" fill="#fff" stroke="#000" stroke-width="2" shape-rendering="auto"/>
<polygon points="573.55,391.97 571.4,395.84 575.45,394.03" fill="#fff" shape-rendering="auto"/>
<text x="582.75" y="390.2" font-size="12.5" fill="#000" text-anchor="middle" letter-spacing="0.3">J5</text>
<polygon points="532.45,401.03 534.7,397.03 540.32,391.82 534.7,397.03 530.55,398.97" fill="#fff" stroke="#000" stroke-width="3.2" stroke-linejoin="round" shape-rendering="auto"/>
<rect x="512.3" y="399.5" width="21" height="14.4" rx="3" fill="#000" stroke="#000" stroke-width="2" shape-rendering="auto"/>
<rect x="511.5" y="398.7" width="21" height="14.4" rx="3" fill="#fff" stroke="#000" stroke-width="2" shape-rendering="auto"/>
<polygon points="532.45,401.03 534.7,397.03 530.55,398.97" fill="#fff" shape-rendering="auto"/>
<text x="521.35" y="410.4" font-size="12.5" fill="#000" text-anchor="middle" letter-spacing="0.3">J6</text>
<polygon points="579.5,408 573.86,409.4 563.6,409.4 573.86,409.4 579.5,410.8" fill="#fff" stroke="#000" stroke-width="3.2" stroke-linejoin="round" shape-rendering="auto"/>
<rect x="578.9" y="402.2" width="22.6" height="15.3" rx="3" fill="#000" stroke="#000" stroke-width="2" shape-rendering="auto"/>
<rect x="578.1" y="401.4" width="22.6" height="15.3" rx="3" fill="#fff" stroke="#000" stroke-width="2" shape-rendering="auto"/>
<polygon points="579.5,408 573.86,409.4 579.5,410.8" fill="#fff" shape-rendering="auto"/>
<text x="588.75" y="413.1" font-size="12.5" fill="#000" text-anchor="middle" letter-spacing="0.3">J4</text>
<polygon points="532.43,428.55 534.87,424.53 540.8,419.29 534.87,424.53 530.57,426.45" fill="#fff" stroke="#000" stroke-width="3.2" stroke-linejoin="round" shape-rendering="auto"/>
<rect x="512.3" y="427.2" width="21" height="14" rx="3" fill="#000" stroke="#000" stroke-width="2" shape-rendering="auto"/>
<rect x="511.5" y="426.4" width="21" height="14" rx="3" fill="#fff" stroke="#000" stroke-width="2" shape-rendering="auto"/>
<polygon points="532.43,428.55 534.87,424.53 530.57,426.45" fill="#fff" shape-rendering="auto"/>
<text x="521.35" y="438.1" font-size="12.5" fill="#000" text-anchor="middle" letter-spacing="0.3">J3</text>
<polygon points="574.91,434.44 570.7,432.66 564.91,427.68 570.7,432.66 573.09,436.56" fill="#fff" stroke="#000" stroke-width="3.2" stroke-linejoin="round" shape-rendering="auto"/>
<rect x="573.1" y="434.6" width="21.4" height="15.2" rx="3" fill="#000" stroke="#000" stroke-width="2" shape-rendering="auto"/>
<rect x="572.3" y="433.8" width="21.4" height="15.2" rx="3" fill="#fff" stroke="#000" stroke-width="2" shape-rendering="auto"/>
<polygon points="574.91,434.44 570.7,432.66 573.09,436.56" fill="#fff" shape-rendering="auto"/>
<text x="582.35" y="445.5" font-size="12.5" fill="#000" text-anchor="middle" letter-spacing="0.3">J2</text>
</svg>
</body>
</html>
